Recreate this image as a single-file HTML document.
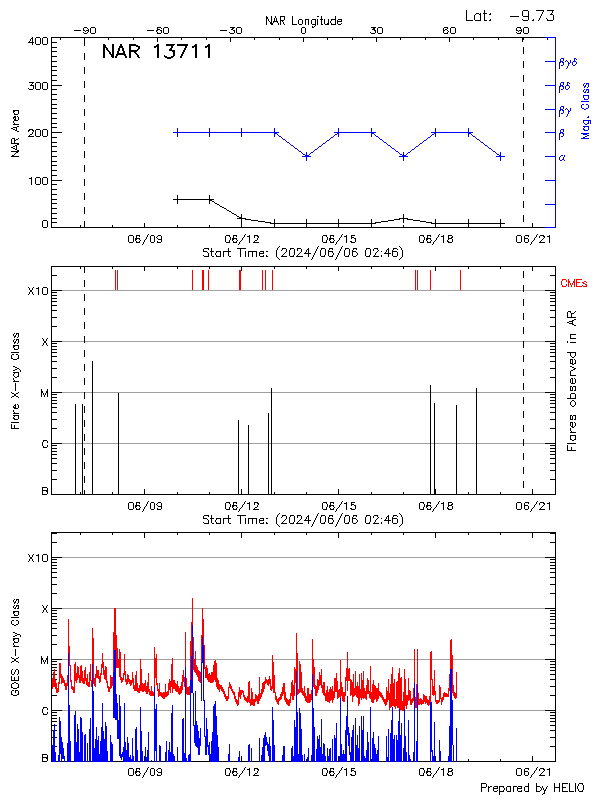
<!DOCTYPE html>
<html lang="en"><head><meta charset="utf-8"><title>NAR 13711</title>
<style>html,body{margin:0;padding:0;background:#fff}body{width:600px;height:800px;overflow:hidden;font-family:"Liberation Sans",sans-serif}svg{display:block}</style>
</head><body>
<svg width="600" height="800" viewBox="0 0 600 800" shape-rendering="crispEdges" role="img" aria-label="NAR 13711 summary plot">
<title>NAR 13711</title>
<desc>NAR 13711. Lat: -9.73. NAR Longitude -90 -60 -30 0 30 60 90. NAR Area 0 100 200 300 400. Mag. Class alpha beta beta-gamma beta-delta beta-gamma-delta. Start Time: (2024/06/06 02:46). 06/09 06/12 06/15 06/18 06/21. Flare X-ray Class B C M X X10. CMEs. Flares observed in AR. GOES X-ray Class. Prepared by HELIO</desc>
<rect width="600" height="800" fill="#fff"/>
<path fill="#000" d="M523 10h5v1h-5zM536 10h8v1h-8zM547 10h7v1h-7zM543 11h1v1h-1zM484 10h1v3h-1zM552 11h1v2h-1zM476 13h3v1h-3zM480 13h1v1h-1zM483 13h4v1h-4zM490 13h1v1h-1zM542 12h1v2h-1zM551 13h1v1h-1zM475 14h1v1h-1zM479 14h2v1h-2zM489 14h2v1h-2zM550 14h3v1h-3zM522 11h1v5h-1zM528 11h1v5h-1zM541 14h1v2h-1zM266 16h1v1h-1zM280 16h5v1h-5zM317 16h2v1h-2zM510 16h9v1h-9zM523 16h6v1h-6zM275 16h1v2h-1zM540 16h1v2h-1zM266 17h2v2h-2zM321 16h1v3h-1zM335 16h1v3h-1zM546 18h1v1h-1zM280 17h1v3h-1zM284 17h1v3h-1zM299 19h3v1h-3zM305 19h4v1h-4zM312 19h4v1h-4zM320 19h3v1h-3zM331 19h5v1h-5zM338 19h4v1h-4zM466 10h1v10h-1zM474 15h1v5h-1zM480 15h1v5h-1zM484 14h1v6h-1zM490 19h1v1h-1zM522 19h1v1h-1zM528 17h1v3h-1zM533 19h1v1h-1zM539 18h1v2h-1zM547 19h1v1h-1zM553 15h1v5h-1zM268 19h1v2h-1zM274 18h1v3h-1zM276 18h1v3h-1zM280 20h4v1h-4zM331 20h1v1h-1zM337 20h1v1h-1zM341 20h1v1h-1zM466 20h7v1h-7zM475 20h6v1h-6zM484 20h3v1h-3zM489 20h2v1h-2zM523 20h5v1h-5zM532 20h2v1h-2zM538 20h1v1h-1zM547 20h6v1h-6zM269 21h1v1h-1zM271 16h1v6h-1zM273 21h5v1h-5zM282 21h1v1h-1zM337 21h5v1h-5zM270 22h2v1h-2zM273 22h1v1h-1zM277 22h1v1h-1zM328 19h1v4h-1zM330 21h1v2h-1zM270 23h3v1h-3zM283 22h1v2h-1zM292 16h1v8h-1zM298 20h1v4h-1zM302 20h1v4h-1zM311 20h1v4h-1zM315 20h1v4h-1zM321 20h1v4h-1zM324 19h1v5h-1zM327 23h2v1h-2zM331 23h1v1h-1zM335 20h1v4h-1zM337 22h1v2h-1zM341 23h1v1h-1zM266 19h1v6h-1zM271 24h2v1h-2zM278 23h1v2h-1zM280 21h1v4h-1zM284 24h1v1h-1zM292 24h5v1h-5zM299 24h3v1h-3zM305 20h1v5h-1zM308 20h1v5h-1zM312 24h4v1h-4zM317 19h1v6h-1zM321 24h2v1h-2zM325 24h4v1h-4zM331 24h5v1h-5zM338 24h3v1h-3zM315 25h1v1h-1zM312 26h1v1h-1zM314 26h1v1h-1zM84 27h3v1h-3zM91 27h4v1h-4zM157 27h4v1h-4zM164 27h4v1h-4zM230 27h5v1h-5zM237 27h4v1h-4zM302 27h3v1h-3zM312 27h2v1h-2zM371 27h5v1h-5zM378 27h4v1h-4zM444 27h4v1h-4zM451 27h4v1h-4zM517 27h4v1h-4zM524 27h4v1h-4zM87 28h1v1h-1zM157 28h1v1h-1zM161 28h1v1h-1zM232 28h2v1h-2zM373 28h2v1h-2zM447 28h1v1h-1zM520 28h1v1h-1zM83 28h1v2h-1zM88 29h1v1h-1zM157 29h3v1h-3zM231 29h2v1h-2zM372 29h3v1h-3zM443 28h1v2h-1zM445 29h2v1h-2zM516 28h1v2h-1zM521 29h1v1h-1zM74 30h7v1h-7zM83 30h2v1h-2zM86 30h3v1h-3zM147 30h7v1h-7zM156 30h2v1h-2zM160 30h2v1h-2zM220 30h7v1h-7zM233 30h2v1h-2zM374 30h2v1h-2zM443 30h2v1h-2zM447 30h1v1h-1zM516 30h2v1h-2zM519 30h3v1h-3zM85 31h1v1h-1zM88 31h1v1h-1zM156 31h1v1h-1zM448 31h1v1h-1zM518 31h1v1h-1zM521 31h1v1h-1zM83 32h1v1h-1zM87 32h1v1h-1zM90 28h1v5h-1zM95 28h1v5h-1zM157 32h1v1h-1zM161 31h1v2h-1zM163 28h1v5h-1zM168 28h1v5h-1zM229 32h1v1h-1zM234 31h1v2h-1zM236 28h1v5h-1zM241 28h1v5h-1zM301 28h1v5h-1zM305 28h1v5h-1zM370 32h1v1h-1zM375 31h1v2h-1zM377 28h1v5h-1zM382 28h1v5h-1zM443 31h1v2h-1zM447 32h1v1h-1zM450 28h1v5h-1zM455 28h1v5h-1zM516 32h1v1h-1zM520 32h1v1h-1zM523 28h1v5h-1zM528 28h1v5h-1zM84 33h3v1h-3zM91 33h4v1h-4zM157 33h4v1h-4zM164 33h4v1h-4zM230 33h4v1h-4zM237 33h4v1h-4zM302 33h3v1h-3zM371 33h4v1h-4zM378 33h4v1h-4zM444 33h4v1h-4zM451 33h4v1h-4zM517 33h4v1h-4zM524 33h4v1h-4zM32 37h1v1h-1zM36 37h4v1h-4zM43 37h4v1h-4zM51 37h494v1h-494zM31 38h2v1h-2zM60 38h1v2h-1zM108 38h1v2h-1zM133 38h1v2h-1zM181 38h1v2h-1zM206 38h1v2h-1zM254 38h1v2h-1zM279 38h1v2h-1zM327 38h1v2h-1zM352 38h1v2h-1zM400 38h1v2h-1zM425 38h1v2h-1zM473 38h1v2h-1zM498 38h1v2h-1zM522 38h2v2h-2zM547 38h1v2h-1zM30 39h1v2h-1zM29 41h1v1h-1zM32 39h1v3h-1zM51 38h1v4h-1zM157 38h1v4h-1zM230 38h1v4h-1zM303 38h1v4h-1zM376 38h1v4h-1zM449 38h1v4h-1zM522 40h1v2h-1zM28 42h6v1h-6zM51 42h6v1h-6zM35 38h1v6h-1zM40 38h1v6h-1zM42 38h1v6h-1zM47 38h1v6h-1zM32 43h1v2h-1zM36 44h4v1h-4zM43 44h4v1h-4zM103 44h2v1h-2zM129 44h7v1h-7zM157 44h2v1h-2zM166 44h9v1h-9zM195 44h2v1h-2zM208 44h2v1h-2zM84 38h1v8h-1zM120 44h2v2h-2zM129 45h9v1h-9zM156 45h3v1h-3zM166 45h8v1h-8zM177 44h11v2h-11zM194 45h3v1h-3zM207 45h3v1h-3zM51 43h1v4h-1zM103 45h3v2h-3zM136 46h4v1h-4zM154 46h5v1h-5zM192 46h5v1h-5zM205 46h5v1h-5zM51 47h6v1h-6zM103 47h4v1h-4zM119 46h4v2h-4zM154 47h2v1h-2zM171 46h2v2h-2zM185 46h2v2h-2zM192 47h2v1h-2zM205 47h2v1h-2zM138 47h2v2h-2zM170 48h2v1h-2zM106 48h2v2h-2zM129 46h2v4h-2zM137 49h2v1h-2zM169 49h3v1h-3zM184 48h2v2h-2zM51 48h1v3h-1zM107 50h2v1h-2zM118 48h2v3h-2zM122 48h2v3h-2zM129 50h9v1h-9zM169 50h6v1h-6zM51 51h6v1h-6zM108 51h2v1h-2zM129 51h8v1h-8zM172 51h3v1h-3zM183 50h2v2h-2zM117 51h2v2h-2zM123 51h2v2h-2zM134 52h2v1h-2zM109 52h2v2h-2zM112 44h2v10h-2zM117 53h8v1h-8zM135 53h2v1h-2zM182 52h2v2h-2zM523 47h1v7h-1zM110 54h4v1h-4zM116 54h10v1h-10zM136 54h2v1h-2zM51 52h1v4h-1zM116 55h2v1h-2zM124 55h2v1h-2zM164 55h1v1h-1zM173 52h2v4h-2zM181 54h2v2h-2zM51 56h6v1h-6zM111 55h3v2h-3zM137 55h2v2h-2zM164 56h3v1h-3zM171 56h3v1h-3zM103 48h2v10h-2zM112 57h2v1h-2zM115 56h2v2h-2zM125 56h2v2h-2zM129 52h2v6h-2zM138 57h2v1h-2zM157 47h2v11h-2zM165 57h8v1h-8zM180 56h2v2h-2zM195 47h2v11h-2zM208 47h2v11h-2zM167 58h4v1h-4zM84 53h1v7h-1zM51 57h1v4h-1zM51 61h6v1h-6zM51 62h1v4h-1zM51 66h6v1h-6zM523 61h1v7h-1zM51 67h1v3h-1zM51 70h6v1h-6zM84 67h1v7h-1zM51 71h1v4h-1zM51 75h6v1h-6zM51 76h1v4h-1zM51 80h6v1h-6zM523 75h1v7h-1zM29 82h5v1h-5zM36 82h4v1h-4zM43 82h4v1h-4zM32 83h1v1h-1zM31 84h1v1h-1zM51 81h1v4h-1zM30 85h4v1h-4zM51 85h11v1h-11zM84 81h1v7h-1zM28 88h1v1h-1zM33 86h1v3h-1zM35 83h1v6h-1zM40 83h1v6h-1zM42 83h1v6h-1zM47 83h1v6h-1zM51 86h1v3h-1zM29 89h4v1h-4zM36 89h4v1h-4zM43 89h4v1h-4zM51 89h6v1h-6zM51 90h1v4h-1zM51 94h6v1h-6zM523 89h1v7h-1zM51 95h1v4h-1zM51 99h6v1h-6zM84 95h1v7h-1zM51 100h1v4h-1zM51 104h6v1h-6zM51 105h1v3h-1zM51 108h6v1h-6zM523 103h1v7h-1zM13 110h6v1h-6zM13 111h2v1h-2zM13 112h1v1h-1zM51 109h1v4h-1zM14 113h1v1h-1zM18 111h1v3h-1zM51 113h6v1h-6zM14 114h4v1h-4zM84 109h1v7h-1zM14 116h2v1h-2zM17 116h1v1h-1zM13 117h3v1h-3zM51 114h1v4h-1zM13 118h1v1h-1zM15 118h1v1h-1zM51 118h6v1h-6zM14 119h2v1h-2zM18 117h1v3h-1zM14 120h4v1h-4zM13 121h1v2h-1zM51 119h1v4h-1zM14 123h1v1h-1zM51 123h6v1h-6zM523 117h1v7h-1zM13 124h6v1h-6zM17 126h2v1h-2zM51 124h1v3h-1zM13 127h4v1h-4zM51 127h6v1h-6zM11 128h2v1h-2zM13 129h2v1h-2zM16 128h1v2h-1zM29 129h4v1h-4zM36 129h4v1h-4zM43 129h4v1h-4zM84 123h1v7h-1zM15 130h2v1h-2zM28 130h2v1h-2zM32 130h2v1h-2zM17 131h2v1h-2zM28 131h1v1h-1zM33 131h1v1h-1zM51 128h1v4h-1zM51 132h11v1h-11zM32 132h1v2h-1zM30 134h2v1h-2zM29 135h1v1h-1zM35 130h1v6h-1zM40 130h1v6h-1zM42 130h1v6h-1zM47 130h1v6h-1zM28 136h6v1h-6zM36 136h4v1h-4zM43 136h4v1h-4zM51 133h1v4h-1zM51 137h6v1h-6zM523 131h1v7h-1zM12 138h3v1h-3zM18 138h1v1h-1zM14 139h1v1h-1zM16 139h2v1h-2zM14 140h2v1h-2zM51 138h1v4h-1zM11 139h1v4h-1zM14 141h1v2h-1zM51 142h6v1h-6zM11 143h8v1h-8zM84 137h1v7h-1zM17 144h2v1h-2zM15 145h2v1h-2zM51 143h1v3h-1zM13 146h2v1h-2zM51 146h6v1h-6zM11 147h2v1h-2zM13 148h2v1h-2zM16 146h1v3h-1zM15 149h2v1h-2zM17 150h2v1h-2zM51 147h1v4h-1zM11 151h8v1h-8zM51 151h6v1h-6zM523 145h1v7h-1zM16 152h2v1h-2zM15 153h1v1h-1zM14 154h1v1h-1zM12 155h2v1h-2zM51 152h1v4h-1zM11 156h8v1h-8zM51 156h6v1h-6zM84 151h1v7h-1zM51 157h1v4h-1zM51 161h6v1h-6zM51 162h1v3h-1zM51 165h6v1h-6zM523 159h1v7h-1zM51 166h1v4h-1zM51 170h6v1h-6zM84 165h1v7h-1zM51 171h1v4h-1zM51 175h6v1h-6zM31 177h1v1h-1zM36 177h4v1h-4zM43 177h4v1h-4zM29 178h3v1h-3zM51 176h1v4h-1zM523 173h1v7h-1zM51 180h11v1h-11zM35 178h1v6h-1zM40 178h1v6h-1zM42 178h1v6h-1zM47 178h1v6h-1zM51 181h1v3h-1zM31 179h1v6h-1zM36 184h4v1h-4zM43 184h4v1h-4zM51 184h6v1h-6zM84 179h1v7h-1zM51 185h1v4h-1zM51 189h6v1h-6zM51 190h1v4h-1zM523 187h1v7h-1zM51 194h6v1h-6zM51 195h1v4h-1zM177 195h1v4h-1zM209 195h1v4h-1zM51 199h6v1h-6zM84 193h1v7h-1zM173 199h41v1h-41zM209 200h3v1h-3zM212 201h2v1h-2zM51 200h1v3h-1zM214 202h1v1h-1zM51 203h6v1h-6zM177 200h1v4h-1zM209 201h1v3h-1zM215 203h2v1h-2zM217 204h2v1h-2zM219 205h1v1h-1zM220 206h2v1h-2zM51 204h1v4h-1zM222 207h2v1h-2zM523 201h1v7h-1zM51 208h6v1h-6zM224 208h2v1h-2zM226 209h1v1h-1zM227 210h2v1h-2zM229 211h2v1h-2zM51 209h1v4h-1zM231 212h1v1h-1zM51 213h6v1h-6zM84 207h1v7h-1zM232 213h2v1h-2zM234 214h2v1h-2zM236 215h1v1h-1zM237 216h2v1h-2zM241 214h1v3h-1zM51 214h1v4h-1zM239 217h3v1h-3zM403 214h1v4h-1zM51 218h6v1h-6zM237 218h9v1h-9zM399 218h9v1h-9zM245 219h6v1h-6zM394 219h6v1h-6zM407 219h6v1h-6zM43 220h4v1h-4zM251 220h7v1h-7zM388 220h6v1h-6zM413 220h7v1h-7zM51 219h1v3h-1zM258 221h7v1h-7zM381 221h7v1h-7zM420 221h6v1h-6zM523 215h1v7h-1zM51 222h6v1h-6zM265 222h6v1h-6zM274 219h1v4h-1zM306 219h1v4h-1zM338 219h1v4h-1zM371 219h1v4h-1zM375 222h6v1h-6zM403 219h1v4h-1zM426 222h6v1h-6zM435 219h1v4h-1zM468 219h1v4h-1zM500 219h1v4h-1zM270 223h106v1h-106zM431 223h74v1h-74zM42 221h1v6h-1zM47 221h1v6h-1zM51 223h1v4h-1zM80 225h1v2h-1zM84 221h1v6h-1zM112 225h1v2h-1zM144 223h1v4h-1zM177 225h1v2h-1zM209 225h1v2h-1zM241 219h1v8h-1zM274 224h1v3h-1zM306 224h1v3h-1zM338 224h1v3h-1zM371 224h1v3h-1zM403 225h1v2h-1zM435 224h1v3h-1zM468 224h1v3h-1zM500 224h1v3h-1zM532 223h1v4h-1zM43 227h4v1h-4zM51 227h494v1h-494zM148 234h1v1h-1zM245 234h1v1h-1zM342 234h1v1h-1zM439 234h1v1h-1zM537 234h1v1h-1zM129 235h4v1h-4zM136 235h4v1h-4zM151 235h3v1h-3zM158 235h3v1h-3zM226 235h4v1h-4zM233 235h4v1h-4zM249 235h1v1h-1zM254 235h4v1h-4zM323 235h4v1h-4zM330 235h4v1h-4zM346 235h1v1h-1zM351 235h4v1h-4zM420 235h4v1h-4zM427 235h4v1h-4zM443 235h1v1h-1zM448 235h4v1h-4zM517 235h4v1h-4zM525 235h4v1h-4zM540 235h4v1h-4zM549 235h1v1h-1zM139 236h1v1h-1zM147 235h1v2h-1zM157 236h1v1h-1zM229 236h1v1h-1zM236 236h1v1h-1zM244 235h1v2h-1zM247 236h3v1h-3zM257 236h2v1h-2zM326 236h1v1h-1zM333 236h1v1h-1zM341 235h1v2h-1zM344 236h3v1h-3zM351 236h1v1h-1zM423 236h1v1h-1zM430 236h1v1h-1zM438 235h1v2h-1zM441 236h3v1h-3zM452 236h1v1h-1zM528 236h1v1h-1zM536 235h1v2h-1zM543 236h2v1h-2zM547 236h3v1h-3zM136 236h1v2h-1zM156 237h1v1h-1zM233 236h1v2h-1zM243 237h1v1h-1zM254 236h1v2h-1zM258 237h1v1h-1zM330 236h1v2h-1zM340 237h1v1h-1zM351 237h3v1h-3zM427 236h1v2h-1zM437 237h1v1h-1zM448 236h1v2h-1zM451 237h2v1h-2zM524 236h1v2h-1zM535 237h1v1h-1zM539 236h1v2h-1zM544 237h1v1h-1zM135 238h5v1h-5zM146 237h1v2h-1zM157 238h1v1h-1zM161 236h1v3h-1zM232 238h5v1h-5zM329 238h5v1h-5zM351 238h1v1h-1zM354 238h2v1h-2zM426 238h5v1h-5zM448 238h4v1h-4zM524 238h4v1h-4zM543 238h1v1h-1zM135 239h2v1h-2zM139 239h1v1h-1zM145 239h1v1h-1zM158 239h4v1h-4zM230 237h1v3h-1zM232 239h2v1h-2zM236 239h1v1h-1zM242 238h1v2h-1zM257 238h1v2h-1zM327 237h1v3h-1zM329 239h2v1h-2zM333 239h1v1h-1zM339 238h1v2h-1zM424 237h1v3h-1zM426 239h2v1h-2zM430 239h1v1h-1zM436 238h1v2h-1zM448 239h1v1h-1zM534 238h1v2h-1zM542 239h1v1h-1zM135 240h1v1h-1zM140 240h1v1h-1zM232 240h1v1h-1zM237 240h1v1h-1zM241 240h1v1h-1zM255 240h2v1h-2zM329 240h1v1h-1zM334 240h1v1h-1zM338 240h1v1h-1zM426 240h1v1h-1zM431 240h1v1h-1zM435 240h1v1h-1zM447 240h1v1h-1zM533 240h1v1h-1zM541 240h1v1h-1zM128 236h1v6h-1zM133 236h1v6h-1zM136 241h1v1h-1zM139 241h1v1h-1zM144 240h1v2h-1zM150 236h1v6h-1zM154 236h1v6h-1zM157 241h1v1h-1zM161 240h1v2h-1zM225 236h1v6h-1zM229 240h1v2h-1zM233 241h1v1h-1zM236 241h1v1h-1zM240 241h1v1h-1zM254 241h1v1h-1zM322 236h1v6h-1zM326 240h1v2h-1zM330 241h1v1h-1zM333 241h1v1h-1zM337 241h1v1h-1zM350 241h2v1h-2zM355 239h1v3h-1zM419 236h1v6h-1zM423 240h1v2h-1zM427 241h1v1h-1zM430 241h1v1h-1zM434 241h1v1h-1zM447 241h2v1h-2zM452 239h1v3h-1zM516 236h1v6h-1zM521 236h1v6h-1zM524 239h1v3h-1zM528 239h1v3h-1zM532 241h1v1h-1zM540 241h1v1h-1zM129 242h4v1h-4zM136 242h4v1h-4zM151 242h3v1h-3zM157 242h4v1h-4zM226 242h4v1h-4zM233 242h4v1h-4zM249 237h1v6h-1zM253 242h6v1h-6zM323 242h4v1h-4zM330 242h4v1h-4zM346 237h1v6h-1zM351 242h4v1h-4zM420 242h4v1h-4zM427 242h4v1h-4zM443 237h1v6h-1zM448 242h4v1h-4zM517 242h4v1h-4zM525 242h3v1h-3zM539 242h6v1h-6zM549 237h1v6h-1zM143 242h1v2h-1zM239 242h1v2h-1zM336 242h1v2h-1zM433 242h1v2h-1zM531 242h1v2h-1zM142 244h1v1h-1zM238 244h1v1h-1zM335 244h1v1h-1zM432 244h1v1h-1zM530 244h1v1h-1zM279 246h1v1h-1zM318 246h1v1h-1zM342 246h1v1h-1zM399 246h1v1h-1zM278 247h1v1h-1zM400 247h1v1h-1zM204 248h5v1h-5zM237 248h9v1h-9zM282 248h4v1h-4zM290 248h4v1h-4zM297 248h4v1h-4zM308 248h1v1h-1zM317 247h1v2h-1zM321 248h4v1h-4zM329 248h4v1h-4zM341 247h1v2h-1zM345 248h4v1h-4zM353 248h4v1h-4zM366 248h4v1h-4zM374 248h4v1h-4zM388 248h1v1h-1zM393 248h4v1h-4zM208 249h1v1h-1zM277 248h1v2h-1zM282 249h1v1h-1zM290 249h1v1h-1zM307 249h2v1h-2zM321 249h1v1h-1zM329 249h1v1h-1zM332 249h1v1h-1zM345 249h1v1h-1zM353 249h1v1h-1zM356 249h1v1h-1zM366 249h1v1h-1zM377 249h1v1h-1zM387 249h2v1h-2zM393 249h1v1h-1zM397 249h1v1h-1zM401 248h1v2h-1zM203 249h1v2h-1zM211 248h1v3h-1zM228 248h1v3h-1zM281 250h1v1h-1zM297 249h1v2h-1zM316 249h1v2h-1zM328 250h1v1h-1zM340 249h1v2h-1zM352 250h1v1h-1zM373 249h1v2h-1zM378 250h1v1h-1zM392 250h1v1h-1zM203 251h4v1h-4zM210 251h4v1h-4zM216 251h5v1h-5zM223 251h8v1h-8zM248 251h9v1h-9zM260 251h4v1h-4zM266 251h2v1h-2zM286 249h1v3h-1zM301 249h1v3h-1zM306 250h1v2h-1zM328 251h5v1h-5zM352 251h4v1h-4zM377 251h1v1h-1zM381 251h1v1h-1zM386 250h1v2h-1zM392 251h5v1h-5zM207 252h1v1h-1zM216 252h1v1h-1zM259 252h1v1h-1zM263 252h1v1h-1zM285 252h1v1h-1zM300 252h1v1h-1zM305 252h1v1h-1zM308 250h1v3h-1zM315 251h1v2h-1zM332 252h1v1h-1zM339 251h1v2h-1zM356 252h1v1h-1zM376 252h1v1h-1zM385 252h1v1h-1zM388 250h1v3h-1zM259 253h5v1h-5zM284 253h1v1h-1zM299 253h1v1h-1zM304 253h7v1h-7zM384 253h7v1h-7zM215 253h1v2h-1zM283 254h1v1h-1zM294 249h1v6h-1zM298 254h1v1h-1zM314 253h1v2h-1zM325 249h1v6h-1zM333 253h1v2h-1zM338 253h1v2h-1zM349 249h1v6h-1zM357 253h1v2h-1zM370 249h1v6h-1zM375 253h1v2h-1zM203 255h1v1h-1zM208 253h1v3h-1zM211 252h1v4h-1zM216 255h1v1h-1zM220 252h1v4h-1zM228 252h1v4h-1zM259 254h1v2h-1zM263 255h1v1h-1zM266 255h1v1h-1zM282 255h1v1h-1zM289 250h1v6h-1zM293 255h1v1h-1zM297 255h1v1h-1zM320 250h1v6h-1zM324 255h1v1h-1zM328 252h1v4h-1zM332 255h1v1h-1zM344 250h1v6h-1zM348 255h1v1h-1zM352 252h1v4h-1zM356 255h1v1h-1zM365 250h1v6h-1zM369 255h1v1h-1zM374 255h1v1h-1zM392 252h1v4h-1zM397 252h1v4h-1zM204 256h5v1h-5zM212 256h2v1h-2zM216 256h5v1h-5zM223 252h1v5h-1zM229 256h2v1h-2zM240 249h1v8h-1zM245 251h1v6h-1zM248 252h1v5h-1zM252 252h1v5h-1zM256 252h1v5h-1zM260 256h4v1h-4zM266 256h2v1h-2zM276 250h1v7h-1zM281 256h6v1h-6zM290 256h4v1h-4zM296 256h7v1h-7zM308 254h1v3h-1zM313 255h1v2h-1zM321 256h4v1h-4zM329 256h4v1h-4zM337 255h1v2h-1zM345 256h4v1h-4zM353 256h3v1h-3zM366 256h4v1h-4zM373 256h6v1h-6zM381 255h1v2h-1zM388 254h1v3h-1zM393 256h4v1h-4zM402 250h1v7h-1zM277 257h1v1h-1zM401 257h1v1h-1zM278 258h1v1h-1zM312 257h1v2h-1zM336 257h1v2h-1zM400 258h1v1h-1zM279 259h1v1h-1zM311 259h1v1h-1zM335 259h1v1h-1zM399 259h1v1h-1zM51 266h505v1h-505zM80 267h1v2h-1zM112 267h1v2h-1zM177 267h1v2h-1zM209 267h1v2h-1zM274 267h1v2h-1zM306 267h1v2h-1zM371 267h1v2h-1zM403 267h1v2h-1zM468 267h1v2h-1zM500 267h1v2h-1zM144 267h1v4h-1zM241 267h1v4h-1zM338 267h1v4h-1zM435 267h1v4h-1zM532 267h1v4h-1zM84 267h1v6h-1zM51 267h1v8h-1zM555 267h1v8h-1zM51 275h6v1h-6zM550 275h6v1h-6zM523 271h1v7h-1zM84 280h1v7h-1zM28 287h1v1h-1zM33 287h1v1h-1zM38 287h1v1h-1zM43 287h4v1h-4zM36 288h3v1h-3zM29 288h1v2h-1zM32 288h1v2h-1zM51 276h1v14h-1zM555 276h1v14h-1zM51 290h11v1h-11zM545 290h11v1h-11zM30 290h2v2h-2zM51 291h1v1h-1zM523 285h1v7h-1zM555 291h1v1h-1zM51 292h6v1h-6zM550 292h6v1h-6zM29 292h1v2h-1zM32 292h1v2h-1zM42 288h1v6h-1zM47 288h1v6h-1zM28 294h1v1h-1zM33 294h1v1h-1zM38 289h1v6h-1zM43 294h4v1h-4zM51 293h1v2h-1zM555 293h1v2h-1zM51 295h6v1h-6zM550 295h6v1h-6zM51 296h1v2h-1zM555 296h1v2h-1zM51 298h6v1h-6zM550 298h6v1h-6zM51 299h1v2h-1zM84 294h1v7h-1zM555 299h1v2h-1zM51 301h6v1h-6zM550 301h6v1h-6zM51 302h1v3h-1zM555 302h1v3h-1zM51 305h6v1h-6zM523 299h1v7h-1zM550 305h6v1h-6zM51 306h1v4h-1zM555 306h1v4h-1zM51 310h6v1h-6zM550 310h6v1h-6zM568 311h3v1h-3zM575 311h1v1h-1zM570 312h1v1h-1zM574 312h1v1h-1zM571 313h3v1h-3zM84 308h1v7h-1zM51 311h1v6h-1zM555 311h1v6h-1zM567 312h1v5h-1zM571 314h1v3h-1zM51 317h6v1h-6zM550 317h6v1h-6zM567 317h9v1h-9zM523 313h1v7h-1zM574 319h2v1h-2zM572 320h2v1h-2zM569 321h4v1h-4zM567 322h2v1h-2zM572 322h1v1h-1zM569 323h4v1h-4zM572 324h2v1h-2zM51 318h1v8h-1zM555 318h1v8h-1zM574 325h2v1h-2zM51 326h6v1h-6zM550 326h6v1h-6zM84 322h1v7h-1zM14 333h1v1h-1zM16 333h3v1h-3zM523 327h1v7h-1zM16 334h1v1h-1zM570 334h6v1h-6zM13 334h1v2h-1zM15 335h1v1h-1zM14 336h2v1h-2zM18 334h1v3h-1zM14 337h1v1h-1zM17 337h1v1h-1zM570 335h1v3h-1zM42 338h1v1h-1zM47 338h1v1h-1zM570 338h6v1h-6zM14 339h1v1h-1zM16 339h3v1h-3zM16 340h1v1h-1zM43 339h1v2h-1zM46 339h1v2h-1zM51 327h1v14h-1zM555 327h1v14h-1zM13 340h1v2h-1zM15 341h1v1h-1zM51 341h11v1h-11zM545 341h11v1h-11zM14 342h2v1h-2zM18 340h1v3h-1zM44 341h2v2h-2zM51 342h1v1h-1zM84 336h1v7h-1zM555 342h1v1h-1zM567 341h1v2h-1zM570 342h6v1h-6zM14 343h1v1h-1zM17 343h1v1h-1zM51 343h6v1h-6zM550 343h6v1h-6zM43 343h1v2h-1zM46 343h1v2h-1zM13 345h6v1h-6zM42 345h1v1h-1zM47 345h1v1h-1zM51 344h1v2h-1zM555 344h1v2h-1zM13 346h2v1h-2zM51 346h6v1h-6zM550 346h6v1h-6zM13 347h1v1h-1zM523 341h1v7h-1zM14 348h1v1h-1zM18 346h1v3h-1zM51 347h1v2h-1zM555 347h1v2h-1zM14 349h4v1h-4zM51 349h6v1h-6zM550 349h6v1h-6zM51 350h1v2h-1zM555 350h1v2h-1zM11 352h8v1h-8zM51 352h6v1h-6zM550 352h6v1h-6zM567 352h9v1h-9zM12 354h2v1h-2zM16 354h2v1h-2zM51 353h1v3h-1zM555 353h1v3h-1zM570 353h1v3h-1zM575 353h1v3h-1zM51 356h6v1h-6zM84 350h1v7h-1zM550 356h6v1h-6zM571 356h1v1h-1zM574 356h1v1h-1zM11 355h1v3h-1zM18 355h1v3h-1zM572 357h2v1h-2zM11 358h2v1h-2zM17 358h2v1h-2zM13 359h4v1h-4zM570 359h3v1h-3zM574 359h1v1h-1zM51 357h1v4h-1zM555 357h1v4h-1zM51 361h6v1h-6zM523 355h1v7h-1zM550 361h6v1h-6zM570 360h1v3h-1zM572 360h1v3h-1zM575 360h1v3h-1zM570 363h3v1h-3zM574 363h2v1h-2zM572 364h2v1h-2zM13 366h2v1h-2zM570 366h2v1h-2zM15 367h2v1h-2zM51 362h1v6h-1zM555 362h1v6h-1zM572 367h2v1h-2zM17 368h2v1h-2zM51 368h6v1h-6zM550 368h6v1h-6zM574 368h2v1h-2zM15 369h2v1h-2zM19 369h1v1h-1zM573 369h2v1h-2zM13 370h2v1h-2zM84 364h1v7h-1zM571 370h2v1h-2zM20 370h1v2h-1zM13 372h6v1h-6zM14 373h1v1h-1zM570 371h1v4h-1zM13 374h1v2h-1zM18 373h1v3h-1zM523 369h1v7h-1zM570 375h6v1h-6zM14 376h1v1h-1zM17 376h2v1h-2zM51 369h1v8h-1zM555 369h1v8h-1zM15 377h2v1h-2zM51 377h6v1h-6zM550 377h6v1h-6zM571 378h2v1h-2zM574 378h1v1h-1zM13 378h1v2h-1zM14 380h1v1h-1zM13 381h6v1h-6zM570 379h1v4h-1zM572 379h1v4h-1zM575 379h1v4h-1zM571 383h4v1h-4zM84 378h1v7h-1zM570 386h2v1h-2zM573 386h3v1h-3zM523 383h1v7h-1zM570 387h1v3h-1zM572 387h1v3h-1zM575 387h1v3h-1zM15 383h1v8h-1zM41 389h1v2h-1zM47 389h1v2h-1zM570 390h3v1h-3zM574 390h2v1h-2zM51 378h1v14h-1zM555 378h1v14h-1zM11 392h1v1h-1zM18 392h1v1h-1zM41 391h2v2h-2zM46 391h2v2h-2zM51 392h11v1h-11zM545 392h11v1h-11zM12 393h2v1h-2zM16 393h2v1h-2zM51 393h1v1h-1zM555 393h1v1h-1zM571 393h4v1h-4zM43 393h1v2h-1zM45 393h1v2h-1zM51 394h6v1h-6zM550 394h6v1h-6zM14 394h2v2h-2zM12 396h2v1h-2zM16 396h2v1h-2zM41 393h1v4h-1zM44 395h1v2h-1zM47 393h1v4h-1zM51 395h1v2h-1zM555 395h1v2h-1zM11 397h1v1h-1zM18 397h1v1h-1zM51 397h6v1h-6zM550 397h6v1h-6zM570 394h1v4h-1zM575 394h1v4h-1zM84 392h1v7h-1zM567 398h9v1h-9zM51 398h1v2h-1zM555 398h1v2h-1zM51 400h6v1h-6zM550 400h6v1h-6zM572 400h2v1h-2zM571 401h1v1h-1zM574 401h1v1h-1zM51 401h1v2h-1zM555 401h1v2h-1zM51 403h6v1h-6zM523 397h1v7h-1zM550 403h6v1h-6zM15 404h1v1h-1zM17 404h1v1h-1zM570 402h1v3h-1zM575 402h1v3h-1zM14 405h2v1h-2zM571 405h1v1h-1zM574 405h1v1h-1zM13 406h1v1h-1zM15 406h1v1h-1zM51 404h1v3h-1zM555 404h1v3h-1zM572 406h2v1h-2zM13 407h3v1h-3zM18 405h1v3h-1zM51 407h6v1h-6zM550 407h6v1h-6zM14 408h4v1h-4zM13 410h1v2h-1zM51 408h1v4h-1zM555 408h1v4h-1zM14 412h1v1h-1zM51 412h6v1h-6zM84 406h1v7h-1zM550 412h6v1h-6zM13 413h6v1h-6zM13 415h6v1h-6zM570 415h2v1h-2zM573 415h3v1h-3zM14 416h1v1h-1zM13 417h1v1h-1zM523 411h1v7h-1zM13 418h2v1h-2zM18 416h1v3h-1zM51 413h1v6h-1zM555 413h1v6h-1zM570 416h1v3h-1zM572 416h1v3h-1zM575 416h1v3h-1zM14 419h4v1h-4zM51 419h6v1h-6zM550 419h6v1h-6zM570 419h3v1h-3zM574 419h2v1h-2zM11 422h8v1h-8zM570 422h3v1h-3zM574 422h1v1h-1zM570 423h1v3h-1zM572 423h1v3h-1zM575 423h1v3h-1zM84 420h1v7h-1zM571 426h2v1h-2zM574 426h1v1h-1zM11 424h1v4h-1zM14 425h1v3h-1zM51 420h1v8h-1zM555 420h1v8h-1zM572 427h2v1h-2zM11 428h8v1h-8zM51 428h6v1h-6zM550 428h6v1h-6zM570 428h1v3h-1zM523 425h1v7h-1zM571 431h1v1h-1zM570 432h6v1h-6zM570 435h6v1h-6zM570 436h1v3h-1zM575 436h1v3h-1zM570 439h2v1h-2zM574 439h2v1h-2zM43 440h4v1h-4zM84 434h1v7h-1zM572 440h2v1h-2zM43 441h1v1h-1zM47 441h1v2h-1zM51 429h1v14h-1zM555 429h1v14h-1zM51 443h11v1h-11zM545 443h11v1h-11zM567 443h9v1h-9zM51 444h1v1h-1zM555 444h1v1h-1zM42 442h1v4h-1zM51 445h6v1h-6zM523 439h1v7h-1zM550 445h6v1h-6zM43 446h1v1h-1zM47 445h1v2h-1zM43 447h4v1h-4zM51 446h1v2h-1zM555 446h1v2h-1zM51 448h6v1h-6zM550 448h6v1h-6zM567 445h1v5h-1zM571 447h1v3h-1zM51 449h1v2h-1zM555 449h1v2h-1zM567 450h9v1h-9zM51 451h6v1h-6zM550 451h6v1h-6zM51 452h1v2h-1zM555 452h1v2h-1zM51 454h6v1h-6zM84 448h1v7h-1zM550 454h6v1h-6zM51 455h1v3h-1zM555 455h1v3h-1zM51 458h6v1h-6zM550 458h6v1h-6zM523 453h1v7h-1zM51 459h1v4h-1zM555 459h1v4h-1zM51 463h6v1h-6zM550 463h6v1h-6zM84 462h1v7h-1zM51 464h1v6h-1zM555 464h1v6h-1zM51 470h6v1h-6zM550 470h6v1h-6zM523 467h1v7h-1zM51 471h1v8h-1zM555 471h1v8h-1zM51 479h6v1h-6zM550 479h6v1h-6zM84 476h1v7h-1zM42 487h5v1h-5zM523 481h1v7h-1zM434 403h1v86h-1zM42 488h1v2h-1zM47 488h1v2h-1zM42 490h6v1h-6zM46 491h2v1h-2zM42 491h1v3h-1zM47 492h1v2h-1zM51 480h1v14h-1zM75 404h1v90h-1zM80 492h1v2h-1zM82 404h1v90h-1zM84 490h1v4h-1zM92 361h1v133h-1zM112 492h1v2h-1zM118 393h1v101h-1zM144 489h1v5h-1zM177 492h1v2h-1zM209 492h1v2h-1zM238 420h1v74h-1zM241 489h1v5h-1zM248 425h1v69h-1zM268 413h1v81h-1zM271 388h1v106h-1zM274 492h1v2h-1zM306 492h1v2h-1zM338 489h1v5h-1zM371 492h1v2h-1zM403 492h1v2h-1zM430 385h1v109h-1zM434 489h2v5h-2zM456 405h1v89h-1zM468 492h1v2h-1zM476 388h1v106h-1zM500 492h1v2h-1zM532 489h1v5h-1zM555 480h1v14h-1zM42 494h5v1h-5zM51 494h505v1h-505zM148 501h1v1h-1zM245 501h1v1h-1zM342 501h1v1h-1zM439 501h1v1h-1zM537 501h1v1h-1zM129 502h4v1h-4zM136 502h4v1h-4zM151 502h3v1h-3zM158 502h3v1h-3zM226 502h4v1h-4zM233 502h4v1h-4zM249 502h1v1h-1zM254 502h4v1h-4zM323 502h4v1h-4zM330 502h4v1h-4zM346 502h1v1h-1zM351 502h4v1h-4zM420 502h4v1h-4zM427 502h4v1h-4zM443 502h1v1h-1zM448 502h4v1h-4zM517 502h4v1h-4zM525 502h4v1h-4zM540 502h4v1h-4zM549 502h1v1h-1zM139 503h1v1h-1zM147 502h1v2h-1zM157 503h1v1h-1zM229 503h1v1h-1zM236 503h1v1h-1zM244 502h1v2h-1zM247 503h3v1h-3zM257 503h2v1h-2zM326 503h1v1h-1zM333 503h1v1h-1zM341 502h1v2h-1zM344 503h3v1h-3zM351 503h1v1h-1zM423 503h1v1h-1zM430 503h1v1h-1zM438 502h1v2h-1zM441 503h3v1h-3zM452 503h1v1h-1zM528 503h1v1h-1zM536 502h1v2h-1zM543 503h2v1h-2zM547 503h3v1h-3zM136 503h1v2h-1zM156 504h1v1h-1zM233 503h1v2h-1zM243 504h1v1h-1zM254 503h1v2h-1zM258 504h1v1h-1zM330 503h1v2h-1zM340 504h1v1h-1zM351 504h3v1h-3zM427 503h1v2h-1zM437 504h1v1h-1zM448 503h1v2h-1zM451 504h2v1h-2zM524 503h1v2h-1zM535 504h1v1h-1zM539 503h1v2h-1zM544 504h1v1h-1zM135 505h5v1h-5zM146 504h1v2h-1zM157 505h1v1h-1zM161 503h1v3h-1zM232 505h5v1h-5zM329 505h5v1h-5zM351 505h1v1h-1zM354 505h2v1h-2zM426 505h5v1h-5zM448 505h4v1h-4zM524 505h4v1h-4zM543 505h1v1h-1zM135 506h2v1h-2zM139 506h1v1h-1zM145 506h1v1h-1zM158 506h4v1h-4zM230 504h1v3h-1zM232 506h2v1h-2zM236 506h1v1h-1zM242 505h1v2h-1zM257 505h1v2h-1zM327 504h1v3h-1zM329 506h2v1h-2zM333 506h1v1h-1zM339 505h1v2h-1zM424 504h1v3h-1zM426 506h2v1h-2zM430 506h1v1h-1zM436 505h1v2h-1zM448 506h1v1h-1zM534 505h1v2h-1zM542 506h1v1h-1zM135 507h1v1h-1zM140 507h1v1h-1zM232 507h1v1h-1zM237 507h1v1h-1zM241 507h1v1h-1zM255 507h2v1h-2zM329 507h1v1h-1zM334 507h1v1h-1zM338 507h1v1h-1zM426 507h1v1h-1zM431 507h1v1h-1zM435 507h1v1h-1zM447 507h1v1h-1zM533 507h1v1h-1zM541 507h1v1h-1zM128 503h1v6h-1zM133 503h1v6h-1zM136 508h1v1h-1zM139 508h1v1h-1zM144 507h1v2h-1zM150 503h1v6h-1zM154 503h1v6h-1zM157 508h1v1h-1zM161 507h1v2h-1zM225 503h1v6h-1zM229 507h1v2h-1zM233 508h1v1h-1zM236 508h1v1h-1zM240 508h1v1h-1zM254 508h1v1h-1zM322 503h1v6h-1zM326 507h1v2h-1zM330 508h1v1h-1zM333 508h1v1h-1zM337 508h1v1h-1zM350 508h2v1h-2zM355 506h1v3h-1zM419 503h1v6h-1zM423 507h1v2h-1zM427 508h1v1h-1zM430 508h1v1h-1zM434 508h1v1h-1zM447 508h2v1h-2zM452 506h1v3h-1zM516 503h1v6h-1zM521 503h1v6h-1zM524 506h1v3h-1zM528 506h1v3h-1zM532 508h1v1h-1zM540 508h1v1h-1zM129 509h4v1h-4zM136 509h4v1h-4zM151 509h3v1h-3zM157 509h4v1h-4zM226 509h4v1h-4zM233 509h4v1h-4zM249 504h1v6h-1zM253 509h6v1h-6zM323 509h4v1h-4zM330 509h4v1h-4zM346 504h1v6h-1zM351 509h4v1h-4zM420 509h4v1h-4zM427 509h4v1h-4zM443 504h1v6h-1zM448 509h4v1h-4zM517 509h4v1h-4zM525 509h3v1h-3zM539 509h6v1h-6zM549 504h1v6h-1zM143 509h1v2h-1zM239 509h1v2h-1zM336 509h1v2h-1zM433 509h1v2h-1zM531 509h1v2h-1zM142 511h1v1h-1zM238 511h1v1h-1zM335 511h1v1h-1zM432 511h1v1h-1zM530 511h1v1h-1zM279 513h1v1h-1zM318 513h1v1h-1zM342 513h1v1h-1zM399 513h1v1h-1zM278 514h1v1h-1zM400 514h1v1h-1zM204 515h5v1h-5zM237 515h9v1h-9zM282 515h4v1h-4zM290 515h4v1h-4zM297 515h4v1h-4zM308 515h1v1h-1zM317 514h1v2h-1zM321 515h4v1h-4zM329 515h4v1h-4zM341 514h1v2h-1zM345 515h4v1h-4zM353 515h4v1h-4zM366 515h4v1h-4zM374 515h4v1h-4zM388 515h1v1h-1zM393 515h4v1h-4zM208 516h1v1h-1zM277 515h1v2h-1zM282 516h1v1h-1zM290 516h1v1h-1zM307 516h2v1h-2zM321 516h1v1h-1zM329 516h1v1h-1zM332 516h1v1h-1zM345 516h1v1h-1zM353 516h1v1h-1zM356 516h1v1h-1zM366 516h1v1h-1zM377 516h1v1h-1zM387 516h2v1h-2zM393 516h1v1h-1zM397 516h1v1h-1zM401 515h1v2h-1zM203 516h1v2h-1zM211 515h1v3h-1zM228 515h1v3h-1zM281 517h1v1h-1zM297 516h1v2h-1zM316 516h1v2h-1zM328 517h1v1h-1zM340 516h1v2h-1zM352 517h1v1h-1zM373 516h1v2h-1zM378 517h1v1h-1zM392 517h1v1h-1zM203 518h4v1h-4zM210 518h4v1h-4zM216 518h5v1h-5zM223 518h8v1h-8zM248 518h9v1h-9zM260 518h4v1h-4zM266 518h2v1h-2zM286 516h1v3h-1zM301 516h1v3h-1zM306 517h1v2h-1zM328 518h5v1h-5zM352 518h4v1h-4zM377 518h1v1h-1zM381 518h1v1h-1zM386 517h1v2h-1zM392 518h5v1h-5zM207 519h1v1h-1zM216 519h1v1h-1zM259 519h1v1h-1zM263 519h1v1h-1zM285 519h1v1h-1zM300 519h1v1h-1zM305 519h1v1h-1zM308 517h1v3h-1zM315 518h1v2h-1zM332 519h1v1h-1zM339 518h1v2h-1zM356 519h1v1h-1zM376 519h1v1h-1zM385 519h1v1h-1zM388 517h1v3h-1zM259 520h5v1h-5zM284 520h1v1h-1zM299 520h1v1h-1zM304 520h7v1h-7zM384 520h7v1h-7zM215 520h1v2h-1zM283 521h1v1h-1zM294 516h1v6h-1zM298 521h1v1h-1zM314 520h1v2h-1zM325 516h1v6h-1zM333 520h1v2h-1zM338 520h1v2h-1zM349 516h1v6h-1zM357 520h1v2h-1zM370 516h1v6h-1zM375 520h1v2h-1zM203 522h1v1h-1zM208 520h1v3h-1zM211 519h1v4h-1zM216 522h1v1h-1zM220 519h1v4h-1zM228 519h1v4h-1zM259 521h1v2h-1zM263 522h1v1h-1zM266 522h1v1h-1zM282 522h1v1h-1zM289 517h1v6h-1zM293 522h1v1h-1zM297 522h1v1h-1zM320 517h1v6h-1zM324 522h1v1h-1zM328 519h1v4h-1zM332 522h1v1h-1zM344 517h1v6h-1zM348 522h1v1h-1zM352 519h1v4h-1zM356 522h1v1h-1zM365 517h1v6h-1zM369 522h1v1h-1zM374 522h1v1h-1zM392 519h1v4h-1zM397 519h1v4h-1zM204 523h5v1h-5zM212 523h2v1h-2zM216 523h5v1h-5zM223 519h1v5h-1zM229 523h2v1h-2zM240 516h1v8h-1zM245 518h1v6h-1zM248 519h1v5h-1zM252 519h1v5h-1zM256 519h1v5h-1zM260 523h4v1h-4zM266 523h2v1h-2zM276 517h1v7h-1zM281 523h6v1h-6zM290 523h4v1h-4zM296 523h7v1h-7zM308 521h1v3h-1zM313 522h1v2h-1zM321 523h4v1h-4zM329 523h4v1h-4zM337 522h1v2h-1zM345 523h4v1h-4zM353 523h3v1h-3zM366 523h4v1h-4zM373 523h6v1h-6zM381 522h1v2h-1zM388 521h1v3h-1zM393 523h4v1h-4zM402 517h1v7h-1zM277 524h1v1h-1zM401 524h1v1h-1zM278 525h1v1h-1zM312 524h1v2h-1zM336 524h1v2h-1zM400 525h1v1h-1zM279 526h1v1h-1zM311 526h1v1h-1zM335 526h1v1h-1zM399 526h1v1h-1zM51 532h505v1h-505zM51 533h6v1h-6zM550 533h6v1h-6zM80 533h1v2h-1zM112 533h1v2h-1zM177 533h1v2h-1zM209 533h1v2h-1zM274 533h1v2h-1zM306 533h1v2h-1zM371 533h1v2h-1zM403 533h1v2h-1zM468 533h1v2h-1zM500 533h1v2h-1zM144 533h1v5h-1zM241 533h1v5h-1zM338 533h1v5h-1zM435 533h1v5h-1zM532 533h1v5h-1zM51 534h1v8h-1zM555 534h1v8h-1zM51 542h6v1h-6zM550 542h6v1h-6zM28 554h1v1h-1zM33 554h1v1h-1zM38 554h1v1h-1zM43 554h4v1h-4zM36 555h3v1h-3zM29 555h1v2h-1zM32 555h1v2h-1zM51 543h1v14h-1zM555 543h1v14h-1zM51 557h11v1h-11zM545 557h11v1h-11zM30 557h2v2h-2zM51 558h1v1h-1zM555 558h1v1h-1zM51 559h6v1h-6zM550 559h6v1h-6zM29 559h1v2h-1zM32 559h1v2h-1zM42 555h1v6h-1zM47 555h1v6h-1zM28 561h1v1h-1zM33 561h1v1h-1zM38 556h1v6h-1zM43 561h4v1h-4zM51 560h1v2h-1zM555 560h1v2h-1zM51 562h6v1h-6zM550 562h6v1h-6zM51 563h1v2h-1zM555 563h1v2h-1zM51 565h6v1h-6zM550 565h6v1h-6zM51 566h1v2h-1zM555 566h1v2h-1zM51 568h6v1h-6zM550 568h6v1h-6zM51 569h1v3h-1zM555 569h1v3h-1zM51 572h6v1h-6zM550 572h6v1h-6zM51 573h1v4h-1zM555 573h1v4h-1zM51 577h6v1h-6zM550 577h6v1h-6zM51 578h1v6h-1zM555 578h1v6h-1zM51 584h6v1h-6zM550 584h6v1h-6zM51 585h1v8h-1zM555 585h1v8h-1zM51 593h6v1h-6zM550 593h6v1h-6zM14 599h1v1h-1zM16 599h3v1h-3zM16 600h1v1h-1zM13 600h1v2h-1zM15 601h1v1h-1zM14 602h2v1h-2zM18 600h1v3h-1zM14 603h1v1h-1zM17 603h1v1h-1zM14 605h1v1h-1zM16 605h3v1h-3zM42 605h1v1h-1zM47 605h1v1h-1zM16 606h1v1h-1zM13 606h1v2h-1zM15 607h1v1h-1zM18 606h1v2h-1zM43 606h1v2h-1zM46 606h1v2h-1zM51 594h1v14h-1zM555 594h1v14h-1zM14 608h2v1h-2zM17 608h2v1h-2zM51 608h11v1h-11zM545 608h11v1h-11zM44 608h2v2h-2zM51 609h1v1h-1zM555 609h1v1h-1zM51 610h6v1h-6zM550 610h6v1h-6zM13 611h6v1h-6zM43 610h1v2h-1zM46 610h1v2h-1zM13 612h2v1h-2zM42 612h1v1h-1zM47 612h1v1h-1zM51 611h1v2h-1zM555 611h1v2h-1zM13 613h1v1h-1zM51 613h6v1h-6zM550 613h6v1h-6zM14 614h1v1h-1zM18 612h1v3h-1zM14 615h4v1h-4zM51 614h1v2h-1zM555 614h1v2h-1zM51 616h6v1h-6zM550 616h6v1h-6zM11 617h8v1h-8zM51 617h1v2h-1zM555 617h1v2h-1zM51 619h6v1h-6zM550 619h6v1h-6zM12 620h2v1h-2zM16 620h2v1h-2zM51 620h1v3h-1zM555 620h1v3h-1zM11 621h1v3h-1zM18 621h1v3h-1zM51 623h6v1h-6zM550 623h6v1h-6zM12 624h2v1h-2zM16 624h2v1h-2zM14 625h2v1h-2zM51 624h1v4h-1zM555 624h1v4h-1zM51 628h6v1h-6zM550 628h6v1h-6zM13 632h2v1h-2zM15 633h2v1h-2zM17 634h3v1h-3zM51 629h1v6h-1zM555 629h1v6h-1zM15 635h2v1h-2zM51 635h6v1h-6zM550 635h6v1h-6zM13 636h2v1h-2zM20 635h1v2h-1zM13 638h6v1h-6zM13 639h2v1h-2zM13 640h1v1h-1zM14 641h1v1h-1zM18 639h1v3h-1zM14 642h4v1h-4zM51 636h1v8h-1zM555 636h1v8h-1zM13 643h1v2h-1zM51 644h6v1h-6zM550 644h6v1h-6zM14 645h1v1h-1zM13 646h6v1h-6zM15 649h1v7h-1zM11 657h1v1h-1zM18 657h1v1h-1zM41 656h1v2h-1zM47 656h1v2h-1zM12 658h2v1h-2zM16 658h2v1h-2zM51 645h1v14h-1zM555 645h1v14h-1zM41 658h2v2h-2zM46 658h2v2h-2zM51 659h11v1h-11zM545 659h11v1h-11zM14 659h2v2h-2zM51 660h1v1h-1zM555 660h1v1h-1zM12 661h2v1h-2zM16 661h2v1h-2zM43 660h1v2h-1zM45 660h1v2h-1zM51 661h6v1h-6zM550 661h6v1h-6zM11 662h1v1h-1zM18 662h1v1h-1zM41 660h1v4h-1zM44 662h1v2h-1zM47 660h1v4h-1zM51 662h1v2h-1zM555 662h1v2h-1zM51 664h6v1h-6zM550 664h6v1h-6zM51 665h1v2h-1zM555 665h1v2h-1zM51 667h6v1h-6zM550 667h6v1h-6zM12 669h1v1h-1zM16 669h2v1h-2zM51 668h1v2h-1zM555 668h1v2h-1zM51 670h3v1h-3zM55 670h2v1h-2zM550 670h6v1h-6zM15 670h1v2h-1zM11 670h1v4h-1zM14 672h1v2h-1zM18 670h1v4h-1zM51 671h1v3h-1zM555 671h1v3h-1zM12 674h2v1h-2zM17 674h1v1h-1zM51 674h2v1h-2zM55 674h2v1h-2zM550 674h6v1h-6zM555 675h1v4h-1zM11 676h1v4h-1zM14 677h1v3h-1zM18 676h1v4h-1zM55 679h2v1h-2zM550 679h6v1h-6zM11 680h8v1h-8zM14 682h2v1h-2zM12 683h2v1h-2zM16 683h2v1h-2zM555 680h1v6h-1zM11 684h1v3h-1zM18 684h1v3h-1zM550 686h6v1h-6zM11 687h2v1h-2zM17 687h2v1h-2zM13 688h4v1h-4zM12 690h2v1h-2zM15 690h3v1h-3zM15 691h1v2h-1zM11 691h1v3h-1zM18 691h1v3h-1zM11 694h2v1h-2zM17 694h2v1h-2zM51 675h1v20h-1zM555 687h1v8h-1zM13 695h4v1h-4zM51 695h6v1h-6zM550 695h6v1h-6zM43 707h4v1h-4zM43 708h1v1h-1zM47 708h1v2h-1zM51 696h1v14h-1zM555 696h1v14h-1zM51 710h11v1h-11zM545 710h11v1h-11zM51 711h1v1h-1zM555 711h1v1h-1zM42 709h1v4h-1zM51 712h6v1h-6zM550 712h6v1h-6zM43 713h1v1h-1zM47 712h1v2h-1zM43 714h4v1h-4zM51 713h1v2h-1zM555 713h1v2h-1zM51 715h6v1h-6zM550 715h6v1h-6zM51 716h1v2h-1zM555 716h1v2h-1zM51 718h6v1h-6zM550 718h6v1h-6zM51 719h1v2h-1zM555 719h1v2h-1zM51 721h6v1h-6zM550 721h6v1h-6zM51 722h1v3h-1zM555 722h1v3h-1zM51 725h3v1h-3zM55 725h2v1h-2zM550 725h6v1h-6zM51 726h1v4h-1zM555 726h1v4h-1zM51 730h2v1h-2zM55 730h2v1h-2zM550 730h6v1h-6zM51 731h1v6h-1zM555 731h1v6h-1zM51 737h2v1h-2zM55 737h2v1h-2zM550 737h6v1h-6zM555 738h1v8h-1zM55 746h2v1h-2zM550 746h6v1h-6zM42 754h5v1h-5zM42 755h1v2h-1zM47 755h1v2h-1zM42 757h6v1h-6zM46 758h2v1h-2zM42 758h1v3h-1zM47 759h1v2h-1zM144 756h1v5h-1zM209 759h1v2h-1zM241 756h1v5h-1zM306 759h1v2h-1zM338 756h1v5h-1zM435 756h1v5h-1zM468 759h1v2h-1zM500 759h1v2h-1zM532 756h1v5h-1zM555 747h1v14h-1zM42 761h5v1h-5zM51 738h1v24h-1zM56 761h2v1h-2zM60 761h1v1h-1zM62 761h2v1h-2zM65 761h2v1h-2zM71 761h3v1h-3zM83 761h1v1h-1zM86 761h1v1h-1zM88 761h1v1h-1zM91 761h1v1h-1zM108 761h2v1h-2zM113 761h10v1h-10zM134 761h1v1h-1zM138 761h2v1h-2zM143 761h2v1h-2zM149 761h2v1h-2zM152 761h2v1h-2zM155 761h1v1h-1zM157 761h2v1h-2zM161 761h4v1h-4zM167 761h1v1h-1zM175 761h2v1h-2zM178 761h4v1h-4zM187 761h1v1h-1zM191 761h19v1h-19zM219 761h9v1h-9zM230 761h8v1h-8zM240 761h8v1h-8zM250 761h1v1h-1zM252 761h7v1h-7zM260 761h1v1h-1zM265 761h4v1h-4zM271 761h1v1h-1zM275 761h7v1h-7zM285 761h6v1h-6zM303 761h1v1h-1zM305 761h2v1h-2zM309 761h2v1h-2zM315 761h1v1h-1zM326 761h1v1h-1zM331 761h1v1h-1zM333 761h1v1h-1zM337 761h2v1h-2zM347 761h3v1h-3zM354 761h1v1h-1zM360 761h1v1h-1zM369 761h1v1h-1zM371 759h1v3h-1zM379 761h7v1h-7zM389 761h1v1h-1zM395 761h1v1h-1zM402 761h1v1h-1zM407 761h1v1h-1zM411 761h2v1h-2zM415 761h1v1h-1zM418 761h12v1h-12zM431 761h1v1h-1zM435 761h4v1h-4zM441 761h7v1h-7zM452 761h1v1h-1zM454 761h2v1h-2zM457 761h99v1h-99zM148 767h1v1h-1zM245 767h1v1h-1zM342 767h1v1h-1zM439 767h1v1h-1zM537 767h1v1h-1zM129 768h4v1h-4zM136 768h4v1h-4zM151 768h3v1h-3zM158 768h3v1h-3zM226 768h4v1h-4zM233 768h4v1h-4zM249 768h1v1h-1zM254 768h4v1h-4zM323 768h4v1h-4zM330 768h4v1h-4zM346 768h1v1h-1zM351 768h4v1h-4zM420 768h4v1h-4zM427 768h4v1h-4zM443 768h1v1h-1zM448 768h4v1h-4zM517 768h4v1h-4zM525 768h4v1h-4zM540 768h4v1h-4zM549 768h1v1h-1zM139 769h1v1h-1zM147 768h1v2h-1zM157 769h1v1h-1zM229 769h1v1h-1zM236 769h1v1h-1zM244 768h1v2h-1zM247 769h3v1h-3zM257 769h2v1h-2zM326 769h1v1h-1zM333 769h1v1h-1zM341 768h1v2h-1zM344 769h3v1h-3zM351 769h1v1h-1zM423 769h1v1h-1zM430 769h1v1h-1zM438 768h1v2h-1zM441 769h3v1h-3zM452 769h1v1h-1zM528 769h1v1h-1zM536 768h1v2h-1zM543 769h2v1h-2zM547 769h3v1h-3zM136 769h1v2h-1zM156 770h1v1h-1zM233 769h1v2h-1zM243 770h1v1h-1zM254 769h1v2h-1zM258 770h1v1h-1zM330 769h1v2h-1zM340 770h1v1h-1zM351 770h3v1h-3zM427 769h1v2h-1zM437 770h1v1h-1zM448 769h1v2h-1zM451 770h2v1h-2zM524 769h1v2h-1zM535 770h1v1h-1zM539 769h1v2h-1zM544 770h1v1h-1zM135 771h5v1h-5zM146 770h1v2h-1zM157 771h1v1h-1zM161 769h1v3h-1zM232 771h5v1h-5zM329 771h5v1h-5zM351 771h1v1h-1zM354 771h2v1h-2zM426 771h5v1h-5zM448 771h4v1h-4zM524 771h4v1h-4zM543 771h1v1h-1zM135 772h2v1h-2zM139 772h1v1h-1zM145 772h1v1h-1zM158 772h4v1h-4zM230 770h1v3h-1zM232 772h2v1h-2zM236 772h1v1h-1zM242 771h1v2h-1zM257 771h1v2h-1zM327 770h1v3h-1zM329 772h2v1h-2zM333 772h1v1h-1zM339 771h1v2h-1zM424 770h1v3h-1zM426 772h2v1h-2zM430 772h1v1h-1zM436 771h1v2h-1zM448 772h1v1h-1zM534 771h1v2h-1zM542 772h1v1h-1zM135 773h1v1h-1zM140 773h1v1h-1zM232 773h1v1h-1zM237 773h1v1h-1zM241 773h1v1h-1zM255 773h2v1h-2zM329 773h1v1h-1zM334 773h1v1h-1zM338 773h1v1h-1zM426 773h1v1h-1zM431 773h1v1h-1zM435 773h1v1h-1zM447 773h1v1h-1zM533 773h1v1h-1zM541 773h1v1h-1zM128 769h1v6h-1zM133 769h1v6h-1zM136 774h1v1h-1zM139 774h1v1h-1zM144 773h1v2h-1zM150 769h1v6h-1zM154 769h1v6h-1zM157 774h1v1h-1zM161 773h1v2h-1zM225 769h1v6h-1zM229 773h1v2h-1zM233 774h1v1h-1zM236 774h1v1h-1zM240 774h1v1h-1zM254 774h1v1h-1zM322 769h1v6h-1zM326 773h1v2h-1zM330 774h1v1h-1zM333 774h1v1h-1zM337 774h1v1h-1zM350 774h2v1h-2zM355 772h1v3h-1zM419 769h1v6h-1zM423 773h1v2h-1zM427 774h1v1h-1zM430 774h1v1h-1zM434 774h1v1h-1zM447 774h2v1h-2zM452 772h1v3h-1zM516 769h1v6h-1zM521 769h1v6h-1zM524 772h1v3h-1zM528 772h1v3h-1zM532 774h1v1h-1zM540 774h1v1h-1zM129 775h4v1h-4zM136 775h4v1h-4zM151 775h3v1h-3zM157 775h4v1h-4zM226 775h4v1h-4zM233 775h4v1h-4zM249 770h1v6h-1zM253 775h6v1h-6zM323 775h4v1h-4zM330 775h4v1h-4zM346 770h1v6h-1zM351 775h4v1h-4zM420 775h4v1h-4zM427 775h4v1h-4zM443 770h1v6h-1zM448 775h4v1h-4zM517 775h4v1h-4zM525 775h3v1h-3zM539 775h6v1h-6zM549 770h1v6h-1zM143 775h1v2h-1zM239 775h1v2h-1zM336 775h1v2h-1zM433 775h1v2h-1zM531 775h1v2h-1zM142 777h1v1h-1zM238 777h1v1h-1zM335 777h1v1h-1zM432 777h1v1h-1zM530 777h1v1h-1zM481 783h5v1h-5zM562 783h6v1h-6zM579 783h4v1h-4zM582 784h1v1h-1zM528 783h1v3h-1zM536 783h1v3h-1zM578 784h1v2h-1zM481 784h1v3h-1zM486 784h1v3h-1zM488 786h1v1h-1zM490 786h2v1h-2zM494 786h4v1h-4zM499 786h5v1h-5zM507 786h4v1h-4zM513 786h4v1h-4zM518 786h4v1h-4zM525 786h4v1h-4zM536 786h4v1h-4zM547 786h1v1h-1zM554 783h1v4h-1zM559 783h1v4h-1zM562 784h1v3h-1zM481 787h5v1h-5zM488 787h2v1h-2zM493 787h1v1h-1zM497 787h1v1h-1zM503 787h1v1h-1zM517 787h1v1h-1zM521 787h1v1h-1zM540 787h1v1h-1zM542 786h1v2h-1zM554 787h6v1h-6zM562 787h4v1h-4zM493 788h5v1h-5zM517 788h5v1h-5zM546 787h1v2h-1zM577 786h1v3h-1zM504 788h1v2h-1zM541 788h1v2h-1zM543 788h1v2h-1zM545 789h1v1h-1zM583 785h1v5h-1zM493 789h1v2h-1zM497 790h1v1h-1zM499 787h1v4h-1zM503 790h1v1h-1zM506 787h1v4h-1zM510 787h1v4h-1zM517 789h1v2h-1zM521 790h1v1h-1zM524 787h1v4h-1zM528 787h1v4h-1zM536 787h1v4h-1zM540 790h1v1h-1zM544 790h2v1h-2zM562 788h1v3h-1zM569 783h1v8h-1zM578 789h1v2h-1zM582 790h1v1h-1zM481 788h1v4h-1zM488 788h1v4h-1zM494 791h3v1h-3zM499 791h5v1h-5zM507 791h4v1h-4zM513 787h1v5h-1zM518 791h4v1h-4zM525 791h4v1h-4zM536 791h4v1h-4zM554 788h1v4h-1zM559 788h1v4h-1zM562 791h6v1h-6zM569 791h5v1h-5zM575 783h1v9h-1zM579 791h4v1h-4zM544 791h1v2h-1zM543 793h2v1h-2zM499 792h1v3h-1zM542 794h1v1h-1z"/>
<path fill="#00f" d="M545 37h11v1h-11zM561 58h3v1h-3zM574 58h2v1h-2zM576 59h1v1h-1zM555 38h1v23h-1zM560 59h1v2h-1zM563 59h1v2h-1zM566 60h1v1h-1zM574 59h1v2h-1zM545 61h11v1h-11zM560 61h3v1h-3zM565 61h1v1h-1zM567 61h1v1h-1zM573 61h3v1h-3zM559 62h2v1h-2zM562 62h2v1h-2zM568 62h1v1h-1zM570 60h1v3h-1zM568 63h2v1h-2zM576 62h1v2h-1zM563 63h1v2h-1zM572 62h1v3h-1zM575 64h1v1h-1zM561 65h2v1h-2zM568 64h1v2h-1zM573 65h2v1h-2zM567 66h1v2h-1zM559 63h1v6h-1zM566 68h1v1h-1zM561 82h3v1h-3zM567 82h2v1h-2zM569 83h1v1h-1zM584 83h1v1h-1zM586 83h3v1h-3zM555 62h1v23h-1zM560 83h1v2h-1zM563 83h1v2h-1zM567 83h1v2h-1zM586 84h1v1h-1zM545 85h11v1h-11zM560 85h3v1h-3zM566 85h3v1h-3zM583 84h1v2h-1zM585 85h1v1h-1zM559 86h2v1h-2zM562 86h2v1h-2zM584 86h2v1h-2zM588 84h1v3h-1zM569 86h1v2h-1zM584 87h1v1h-1zM587 87h1v1h-1zM563 87h1v2h-1zM565 86h1v3h-1zM568 88h1v1h-1zM561 89h2v1h-2zM566 89h2v1h-2zM584 89h1v1h-1zM586 89h3v1h-3zM586 90h1v1h-1zM583 90h1v2h-1zM585 91h1v1h-1zM588 90h1v2h-1zM559 87h1v6h-1zM584 92h2v1h-2zM587 92h2v1h-2zM583 95h6v1h-6zM583 96h1v2h-1zM584 98h1v1h-1zM588 96h1v3h-1zM584 99h4v1h-4zM581 101h8v1h-8zM582 104h2v1h-2zM586 104h2v1h-2zM561 106h3v1h-3zM581 105h1v3h-1zM588 105h1v3h-1zM555 86h1v23h-1zM560 107h1v2h-1zM563 107h1v2h-1zM566 108h1v1h-1zM582 108h2v1h-2zM586 108h2v1h-2zM545 109h11v1h-11zM560 109h3v1h-3zM565 109h1v1h-1zM567 109h1v1h-1zM584 109h2v1h-2zM559 110h2v1h-2zM562 110h2v1h-2zM568 110h1v1h-1zM570 108h1v3h-1zM568 111h2v1h-2zM563 111h1v2h-1zM561 113h2v1h-2zM568 112h1v2h-1zM567 114h1v2h-1zM559 111h1v6h-1zM566 116h1v1h-1zM588 116h1v1h-1zM587 117h2v1h-2zM583 120h8v1h-8zM583 121h1v2h-1zM588 121h1v2h-1zM584 123h1v1h-1zM587 123h2v1h-2zM590 121h1v3h-1zM585 124h2v1h-2zM583 126h6v1h-6zM584 127h1v1h-1zM583 128h1v1h-1zM561 129h3v1h-3zM583 129h2v1h-2zM588 127h1v3h-1zM584 130h4v1h-4zM177 128h1v4h-1zM209 128h1v4h-1zM241 128h1v4h-1zM274 128h1v4h-1zM338 128h1v4h-1zM371 128h1v4h-1zM435 128h1v4h-1zM468 128h1v4h-1zM555 110h1v22h-1zM560 130h1v2h-1zM563 130h1v2h-1zM173 132h106v1h-106zM334 132h42v1h-42zM431 132h42v1h-42zM545 132h11v1h-11zM560 132h3v1h-3zM274 133h3v1h-3zM337 133h2v1h-2zM371 133h3v1h-3zM434 133h2v1h-2zM468 133h3v1h-3zM559 133h2v1h-2zM562 133h2v1h-2zM581 133h8v1h-8zM277 134h1v1h-1zM335 134h2v1h-2zM374 134h1v1h-1zM432 134h2v1h-2zM471 134h1v1h-1zM583 134h4v1h-4zM278 135h1v1h-1zM334 135h1v1h-1zM375 135h1v1h-1zM431 135h1v1h-1zM472 135h1v1h-1zM563 134h1v2h-1zM587 135h2v1h-2zM177 133h1v4h-1zM209 133h1v4h-1zM241 133h1v4h-1zM274 134h1v3h-1zM279 136h2v1h-2zM333 136h1v1h-1zM338 134h1v3h-1zM371 134h1v3h-1zM376 136h2v1h-2zM430 136h1v1h-1zM435 134h1v3h-1zM468 134h1v3h-1zM473 136h2v1h-2zM561 136h2v1h-2zM585 136h2v1h-2zM281 137h1v1h-1zM331 137h2v1h-2zM378 137h1v1h-1zM428 137h2v1h-2zM475 137h1v1h-1zM583 137h2v1h-2zM282 138h1v1h-1zM330 138h1v1h-1zM379 138h1v1h-1zM427 138h1v1h-1zM476 138h1v1h-1zM581 138h8v1h-8zM283 139h2v1h-2zM329 139h1v1h-1zM380 139h2v1h-2zM426 139h1v1h-1zM477 139h2v1h-2zM559 134h1v6h-1zM285 140h1v1h-1zM327 140h2v1h-2zM382 140h1v1h-1zM424 140h2v1h-2zM479 140h1v1h-1zM286 141h1v1h-1zM326 141h1v1h-1zM383 141h1v1h-1zM423 141h1v1h-1zM480 141h1v1h-1zM287 142h2v1h-2zM325 142h1v1h-1zM384 142h2v1h-2zM422 142h1v1h-1zM481 142h2v1h-2zM289 143h1v1h-1zM323 143h2v1h-2zM386 143h1v1h-1zM420 143h2v1h-2zM483 143h1v1h-1zM290 144h1v1h-1zM322 144h1v1h-1zM387 144h1v1h-1zM419 144h1v1h-1zM484 144h1v1h-1zM291 145h2v1h-2zM321 145h1v1h-1zM388 145h2v1h-2zM418 145h1v1h-1zM485 145h2v1h-2zM293 146h1v1h-1zM319 146h2v1h-2zM390 146h1v1h-1zM416 146h2v1h-2zM487 146h1v1h-1zM294 147h1v1h-1zM318 147h1v1h-1zM391 147h1v1h-1zM415 147h1v1h-1zM488 147h1v1h-1zM295 148h2v1h-2zM317 148h1v1h-1zM392 148h2v1h-2zM414 148h1v1h-1zM489 148h2v1h-2zM297 149h1v1h-1zM315 149h2v1h-2zM394 149h1v1h-1zM412 149h2v1h-2zM491 149h1v1h-1zM298 150h1v1h-1zM314 150h1v1h-1zM395 150h1v1h-1zM411 150h1v1h-1zM492 150h1v1h-1zM299 151h2v1h-2zM313 151h1v1h-1zM396 151h2v1h-2zM410 151h1v1h-1zM493 151h2v1h-2zM301 152h1v1h-1zM311 152h2v1h-2zM398 152h1v1h-1zM408 152h2v1h-2zM495 152h1v1h-1zM302 153h1v1h-1zM310 153h1v1h-1zM399 153h1v1h-1zM407 153h1v1h-1zM496 153h1v1h-1zM303 154h2v1h-2zM306 152h1v3h-1zM309 154h1v1h-1zM400 154h2v1h-2zM403 152h1v3h-1zM406 154h1v1h-1zM497 154h2v1h-2zM500 152h1v3h-1zM305 155h4v1h-4zM402 155h4v1h-4zM499 155h2v1h-2zM555 133h1v23h-1zM561 155h2v1h-2zM302 156h9v1h-9zM399 156h9v1h-9zM496 156h9v1h-9zM545 156h11v1h-11zM560 156h1v1h-1zM564 155h1v2h-1zM563 157h1v2h-1zM559 157h1v3h-1zM562 159h2v1h-2zM306 157h1v4h-1zM403 157h1v4h-1zM500 157h1v4h-1zM560 160h2v1h-2zM564 160h1v1h-1zM555 157h1v23h-1zM545 180h11v1h-11zM555 181h1v23h-1zM545 204h11v1h-11zM555 205h1v22h-1zM545 227h11v1h-11zM202 637h1v8h-1zM192 625h1v31h-1zM202 645h2v17h-2zM201 662h3v1h-3zM114 650h2v22h-2zM191 656h2v24h-2zM92 664h1v27h-1zM190 680h3v13h-3zM113 672h3v22h-3zM203 663h1v37h-1zM450 669h2v31h-2zM201 663h1v38h-1zM203 700h2v1h-2zM113 694h4v9h-4zM215 701h1v3h-1zM68 653h1v52h-1zM119 695h1v11h-1zM214 704h2v2h-2zM312 674h1v34h-1zM154 687h1v22h-1zM156 704h1v5h-1zM296 671h1v41h-1zM172 705h1v8h-1zM299 708h1v5h-1zM75 711h1v4h-1zM213 706h3v10h-3zM347 696h1v20h-1zM80 717h1v1h-1zM113 703h5v15h-5zM183 718h1v1h-1zM115 718h3v2h-3zM119 706h2v14h-2zM272 707h1v13h-1zM392 707h1v13h-1zM59 717h1v4h-1zM195 691h1v30h-1zM399 709h1v12h-1zM193 693h1v32h-1zM195 721h2v4h-2zM105 722h1v4h-1zM193 725h5v1h-5zM450 700h3v26h-3zM102 703h1v24h-1zM294 720h1v7h-1zM296 712h2v15h-2zM312 708h2v19h-2zM346 716h2v11h-2zM77 724h1v5h-1zM90 718h1v11h-1zM136 727h1v2h-1zM206 718h1v11h-1zM299 713h2v16h-2zM54 724h1v6h-1zM346 727h3v3h-3zM353 725h1v5h-1zM361 716h1v14h-1zM363 716h1v14h-1zM101 727h2v4h-2zM140 707h1v24h-1zM194 726h4v5h-4zM80 718h2v14h-2zM213 716h4v16h-4zM345 730h4v3h-4zM391 720h2v13h-2zM85 734h1v1h-1zM212 732h5v3h-5zM265 732h1v3h-1zM345 733h5v2h-5zM398 721h2v14h-2zM401 723h1v12h-1zM204 701h1v35h-1zM206 729h2v7h-2zM404 709h1v27h-1zM59 721h2v16h-2zM204 736h4v1h-4zM264 735h2v2h-2zM352 730h2v7h-2zM194 731h5v7h-5zM200 728h1v10h-1zM264 737h3v1h-3zM334 735h1v3h-1zM336 723h1v15h-1zM373 732h1v6h-1zM96 727h1v12h-1zM101 731h3v8h-3zM105 726h2v13h-2zM117 720h4v19h-4zM317 736h1v3h-1zM319 735h1v4h-1zM390 733h3v6h-3zM394 735h1v4h-1zM95 739h2v1h-2zM98 736h1v4h-1zM396 735h1v5h-1zM398 735h4v5h-4zM68 705h2v36h-2zM101 739h6v2h-6zM212 735h6v6h-6zM417 685h1v56h-1zM59 737h3v5h-3zM74 715h2v27h-2zM77 729h2v13h-2zM110 735h1v7h-1zM124 703h1v39h-1zM263 738h4v4h-4zM367 732h1v10h-1zM68 741h3v2h-3zM127 737h1v6h-1zM194 738h7v5h-7zM110 742h2v2h-2zM263 742h5v2h-5zM269 737h1v7h-1zM323 743h1v1h-1zM340 698h1v46h-1zM372 738h2v6h-2zM53 730h2v15h-2zM205 737h3v8h-3zM209 742h1v3h-1zM249 744h1v1h-1zM263 744h7v1h-7zM272 720h2v25h-2zM355 718h1v27h-1zM357 735h1v10h-1zM449 726h4v19h-4zM159 745h1v1h-1zM195 743h6v3h-6zM263 745h3v1h-3zM267 745h3v1h-3zM348 735h2v11h-2zM124 742h2v5h-2zM196 746h4v1h-4zM205 745h5v2h-5zM211 741h7v6h-7zM263 746h2v1h-2zM317 739h3v8h-3zM321 719h1v28h-1zM59 742h4v6h-4zM92 691h2v57h-2zM95 740h4v8h-4zM197 747h3v1h-3zM292 746h1v2h-1zM355 745h3v3h-3zM359 726h1v22h-1zM372 744h3v4h-3zM404 736h2v12h-2zM317 747h5v2h-5zM330 748h1v1h-1zM123 747h3v3h-3zM127 743h2v7h-2zM135 729h2v21h-2zM148 732h1v18h-1zM169 742h1v8h-1zM367 742h2v8h-2zM378 736h1v14h-1zM430 702h2v48h-2zM100 741h7v10h-7zM140 731h2v20h-2zM154 709h3v42h-3zM267 746h4v5h-4zM439 740h1v11h-1zM52 745h3v7h-3zM74 742h5v10h-5zM80 732h3v20h-3zM123 750h6v2h-6zM166 741h1v11h-1zM168 750h2v2h-2zM171 713h2v39h-2zM349 746h1v6h-1zM351 737h3v15h-3zM403 748h3v4h-3zM414 683h1v69h-1zM430 750h3v2h-3zM182 719h2v34h-2zM185 667h1v86h-1zM59 748h5v6h-5zM92 748h7v6h-7zM100 751h8v3h-8zM119 739h2v15h-2zM122 752h7v2h-7zM168 752h5v2h-5zM190 693h1v61h-1zM208 747h2v7h-2zM211 747h8v7h-8zM229 744h1v10h-1zM294 727h4v27h-4zM299 729h3v25h-3zM316 749h6v5h-6zM323 744h2v10h-2zM340 744h2v10h-2zM343 750h1v4h-1zM345 735h2v19h-2zM372 748h4v6h-4zM377 750h2v4h-2zM59 754h1v1h-1zM189 754h2v1h-2zM198 748h2v7h-2zM205 747h2v8h-2zM208 754h11v1h-11zM262 747h3v8h-3zM283 746h2v9h-2zM294 754h8v1h-8zM312 727h3v28h-3zM349 752h5v3h-5zM408 720h1v35h-1zM61 754h3v2h-3zM119 754h10v2h-10zM132 738h1v18h-1zM168 754h6v2h-6zM268 751h3v5h-3zM291 748h2v8h-2zM294 755h9v1h-9zM316 754h9v2h-9zM327 748h1v8h-1zM329 749h2v7h-2zM340 754h7v2h-7zM361 730h3v26h-3zM432 752h1v4h-1zM434 722h1v34h-1zM449 745h3v11h-3zM120 756h9v1h-9zM130 755h1v2h-1zM145 747h1v10h-1zM147 750h2v7h-2zM239 751h1v6h-1zM308 748h1v9h-1zM386 736h1v21h-1zM388 729h1v28h-1zM120 757h2v1h-2zM182 753h4v5h-4zM361 756h4v2h-4zM366 750h3v8h-3zM61 756h4v3h-4zM123 757h8v2h-8zM132 756h2v3h-2zM209 755h10v4h-10zM408 755h2v4h-2zM121 758h1v2h-1zM52 752h4v10h-4zM58 755h2v7h-2zM61 759h1v3h-1zM64 759h1v3h-1zM67 743h4v19h-4zM74 752h9v10h-9zM84 735h2v27h-2zM87 743h1v19h-1zM89 729h2v33h-2zM92 754h16v8h-16zM110 744h3v18h-3zM123 759h11v3h-11zM135 750h3v12h-3zM140 751h3v11h-3zM145 757h4v5h-4zM151 760h1v2h-1zM154 751h1v11h-1zM156 751h1v11h-1zM159 746h2v16h-2zM165 752h2v10h-2zM168 756h7v6h-7zM177 747h1v15h-1zM182 758h5v4h-5zM188 755h3v7h-3zM210 759h9v3h-9zM228 754h2v8h-2zM238 757h2v5h-2zM248 745h2v17h-2zM251 748h1v14h-1zM259 738h1v24h-1zM261 755h4v7h-4zM269 756h2v6h-2zM272 745h3v17h-3zM282 755h3v7h-3zM291 756h12v6h-12zM304 754h1v8h-1zM307 757h2v5h-2zM311 755h4v7h-4zM316 756h10v6h-10zM327 756h4v6h-4zM332 739h1v23h-1zM334 738h3v24h-3zM339 756h8v6h-8zM350 755h4v7h-4zM355 748h5v14h-5zM361 758h8v4h-8zM370 707h1v55h-1zM372 754h7v8h-7zM386 757h3v5h-3zM390 739h5v23h-5zM396 740h6v22h-6zM403 752h4v10h-4zM408 759h3v3h-3zM413 752h2v10h-2zM416 741h2v21h-2zM430 752h1v10h-1zM432 756h3v6h-3zM439 751h2v11h-2zM448 756h4v6h-4zM453 745h1v17h-1zM456 728h1v34h-1z"/>
<path fill="#f00" d="M562 279h4v1h-4zM576 279h6v1h-6zM562 280h1v1h-1zM568 279h1v2h-1zM574 279h1v2h-1zM566 280h1v2h-1zM576 280h1v2h-1zM584 281h2v1h-2zM568 281h2v2h-2zM573 281h2v2h-2zM576 282h4v1h-4zM582 282h2v1h-2zM586 282h1v1h-1zM583 283h2v1h-2zM561 281h1v4h-1zM570 283h1v2h-1zM572 283h1v2h-1zM585 284h2v1h-2zM562 285h1v1h-1zM566 284h1v2h-1zM576 283h1v3h-1zM582 285h1v1h-1zM586 285h1v1h-1zM562 286h4v1h-4zM568 283h1v4h-1zM571 285h1v2h-1zM574 283h1v4h-1zM576 286h6v1h-6zM583 286h4v1h-4zM115 270h1v20h-1zM117 270h1v20h-1zM192 270h1v20h-1zM202 270h2v20h-2zM208 270h1v20h-1zM239 270h2v20h-2zM262 270h1v20h-1zM265 270h1v20h-1zM272 270h1v20h-1zM415 270h1v20h-1zM417 270h1v20h-1zM430 270h1v20h-1zM460 270h1v20h-1zM202 608h1v11h-1zM192 598h1v24h-1zM191 622h2v3h-2zM114 608h2v24h-2zM113 632h3v3h-3zM202 619h2v16h-2zM201 635h3v2h-3zM92 628h1v10h-1zM451 639h1v1h-1zM191 625h1v16h-1zM203 637h1v8h-1zM68 619h1v27h-1zM113 635h4v13h-4zM113 648h5v2h-5zM119 649h1v3h-1zM431 651h1v1h-1zM68 646h2v7h-2zM296 633h1v20h-1zM450 640h2v15h-2zM190 641h2v15h-2zM154 647h1v11h-1zM156 654h1v4h-1zM116 650h2v9h-2zM119 652h2v7h-2zM193 637h1v22h-1zM195 651h1v8h-1zM312 639h1v20h-1zM215 660h1v1h-1zM102 653h1v9h-1zM201 637h1v25h-1zM272 655h1v7h-1zM214 661h2v2h-2zM75 662h1v2h-1zM92 638h2v26h-2zM102 662h2v2h-2zM172 658h1v6h-1zM299 661h1v3h-1zM69 653h1v12h-1zM193 659h3v6h-3zM214 663h3v2h-3zM69 665h2v1h-2zM81 665h1v1h-1zM77 666h1v1h-1zM105 666h1v1h-1zM185 632h1v35h-1zM193 665h4v2h-4zM204 645h1v22h-1zM206 665h1v2h-1zM312 659h2v8h-2zM101 664h3v4h-3zM116 659h5v9h-5zM204 667h3v1h-3zM347 652h1v16h-1zM140 659h1v10h-1zM204 668h4v1h-4zM294 667h1v2h-1zM296 653h2v16h-2zM346 668h2v1h-2zM349 668h1v1h-1zM450 655h3v14h-3zM85 667h1v3h-1zM96 666h1v4h-1zM103 668h1v2h-1zM105 667h2v3h-2zM193 667h5v3h-5zM80 666h2v5h-2zM124 654h1v17h-1zM194 670h5v1h-5zM294 669h4v2h-4zM54 669h1v3h-1zM90 664h1v8h-1zM113 650h1v22h-1zM194 671h6v1h-6zM213 665h4v7h-4zM299 664h2v8h-2zM74 664h2v9h-2zM77 667h2v6h-2zM101 668h1v5h-1zM124 671h2v2h-2zM195 672h6v1h-6zM399 668h1v5h-1zM59 663h2v11h-2zM96 670h3v4h-3zM205 669h3v5h-3zM209 673h1v1h-1zM312 667h3v7h-3zM392 667h1v7h-1zM74 673h5v2h-5zM80 671h3v4h-3zM100 673h2v2h-2zM103 670h4v5h-4zM123 673h3v2h-3zM127 674h1v1h-1zM136 671h1v4h-1zM183 670h1v5h-1zM196 673h5v2h-5zM205 674h5v1h-5zM211 672h6v3h-6zM272 662h2v13h-2zM319 672h1v3h-1zM321 669h1v6h-1zM59 674h3v2h-3zM95 674h4v2h-4zM100 675h1v1h-1zM110 675h1v2h-1zM119 668h2v9h-2zM182 675h2v2h-2zM197 675h4v2h-4zM346 669h4v8h-4zM53 672h2v6h-2zM59 676h4v2h-4zM74 675h9v3h-9zM84 670h2v8h-2zM87 674h1v4h-1zM93 664h1v14h-1zM95 676h6v2h-6zM120 677h2v1h-2zM123 675h1v3h-1zM132 672h1v6h-1zM154 658h3v20h-3zM205 675h12v3h-12zM336 673h1v5h-1zM398 673h2v5h-2zM401 677h1v1h-1zM98 678h3v1h-3zM104 675h3v4h-3zM125 675h1v4h-1zM127 675h2v4h-2zM265 677h1v2h-1zM269 676h1v3h-1zM345 677h5v2h-5zM404 669h1v10h-1zM430 652h2v27h-2zM52 678h3v2h-3zM61 678h3v2h-3zM70 666h1v14h-1zM74 678h4v2h-4zM89 672h2v8h-2zM105 679h2v1h-2zM120 678h4v2h-4zM125 679h5v1h-5zM132 678h2v2h-2zM171 664h2v16h-2zM190 656h1v24h-1zM207 678h11v2h-11zM265 679h2v1h-2zM268 679h3v1h-3zM317 679h1v1h-1zM319 675h3v5h-3zM345 679h6v1h-6zM361 673h1v7h-1zM363 671h1v9h-1zM367 678h1v2h-1zM430 679h3v1h-3zM74 680h3v1h-3zM79 678h9v3h-9zM89 680h3v1h-3zM106 680h1v1h-1zM169 679h1v2h-1zM171 680h4v1h-4zM198 677h3v4h-3zM265 680h6v1h-6zM334 678h3v3h-3zM345 680h7v1h-7zM398 678h4v3h-4zM59 678h1v4h-1zM70 680h2v2h-2zM86 681h2v1h-2zM89 681h1v1h-1zM99 679h2v3h-2zM121 680h2v2h-2zM125 680h9v2h-9zM148 673h1v9h-1zM182 677h3v5h-3zM199 681h2v1h-2zM208 680h6v2h-6zM215 680h4v2h-4zM249 681h1v1h-1zM264 681h7v1h-7zM292 680h1v2h-1zM340 660h1v22h-1zM350 681h2v1h-2zM353 674h1v8h-1zM397 681h5v1h-5zM52 680h4v3h-4zM61 680h4v3h-4zM67 675h1v8h-1zM76 681h1v2h-1zM79 681h2v2h-2zM82 681h3v2h-3zM99 682h1v1h-1zM106 681h2v2h-2zM121 682h1v1h-1zM129 682h5v1h-5zM135 675h2v8h-2zM140 669h2v14h-2zM145 680h1v3h-1zM156 678h1v5h-1zM169 681h6v2h-6zM200 682h1v1h-1zM210 682h3v1h-3zM263 682h8v1h-8zM294 671h2v12h-2zM391 674h2v9h-2zM394 679h1v4h-1zM414 649h1v34h-1zM58 682h2v2h-2zM61 683h1v1h-1zM83 683h2v1h-2zM93 678h3v6h-3zM126 682h2v2h-2zM129 683h3v1h-3zM140 683h3v1h-3zM144 683h2v1h-2zM168 683h8v1h-8zM177 681h1v3h-1zM216 682h3v2h-3zM229 682h1v2h-1zM262 683h4v1h-4zM267 683h4v1h-4zM373 680h1v4h-1zM391 683h4v1h-4zM417 649h1v35h-1zM86 682h4v3h-4zM126 684h1v1h-1zM130 684h2v1h-2zM133 683h1v2h-1zM135 683h3v2h-3zM140 684h6v1h-6zM156 683h2v2h-2zM216 684h4v1h-4zM267 684h2v1h-2zM291 682h2v3h-2zM294 683h1v2h-1zM313 674h2v11h-2zM317 680h5v5h-5zM323 682h2v3h-2zM367 680h2v5h-2zM372 684h2v1h-2zM416 684h2v1h-2zM452 669h1v16h-1zM64 683h4v3h-4zM71 682h1v4h-1zM87 685h3v1h-3zM94 684h2v2h-2zM107 683h1v3h-1zM110 677h3v9h-3zM130 685h1v1h-1zM139 685h7v1h-7zM147 682h2v4h-2zM168 684h10v2h-10zM181 682h2v4h-2zM229 684h2v2h-2zM268 685h1v1h-1zM270 684h1v2h-1zM272 675h3v11h-3zM313 685h3v1h-3zM317 685h3v1h-3zM355 671h1v15h-1zM357 682h1v4h-1zM359 674h1v12h-1zM372 685h3v1h-3zM432 680h1v6h-1zM434 670h1v16h-1zM52 683h5v4h-5zM71 686h2v1h-2zM74 681h1v6h-1zM88 686h2v1h-2zM91 681h1v6h-1zM95 686h1v1h-1zM107 686h2v1h-2zM110 686h2v1h-2zM154 678h1v9h-1zM168 686h11v1h-11zM184 682h1v5h-1zM186 678h1v9h-1zM189 686h1v1h-1zM216 685h6v2h-6zM229 686h3v1h-3zM283 683h2v4h-2zM313 686h6v1h-6zM340 682h2v5h-2zM439 685h1v2h-1zM55 687h2v1h-2zM58 684h1v4h-1zM107 687h5v1h-5zM133 685h5v3h-5zM139 686h10v2h-10zM172 687h7v1h-7zM180 686h3v2h-3zM228 687h4v1h-4zM299 672h3v16h-3zM321 685h4v3h-4zM350 682h4v6h-4zM355 686h5v2h-5zM361 680h3v8h-3zM372 686h4v2h-4zM378 683h1v5h-1zM449 674h1v14h-1zM52 687h1v2h-1zM55 688h4v1h-4zM71 687h4v2h-4zM108 688h3v1h-3zM133 688h16v1h-16zM157 685h1v4h-1zM159 683h1v6h-1zM172 688h11v1h-11zM217 687h6v2h-6zM230 688h2v1h-2zM262 684h3v5h-3zM270 686h5v3h-5zM297 671h1v18h-1zM299 688h4v1h-4zM314 687h5v2h-5zM330 687h1v2h-1zM332 686h1v3h-1zM340 687h3v2h-3zM350 688h10v1h-10zM361 688h4v1h-4zM65 686h2v4h-2zM72 689h3v1h-3zM168 687h3v3h-3zM175 689h8v1h-8zM218 689h2v1h-2zM239 687h1v3h-1zM270 689h2v1h-2zM315 689h4v1h-4zM327 686h1v4h-1zM334 681h4v9h-4zM339 689h4v1h-4zM408 678h1v12h-1zM134 689h16v2h-16zM151 686h1v5h-1zM157 689h3v2h-3zM168 690h1v1h-1zM175 690h7v1h-7zM221 689h3v2h-3zM231 689h2v2h-2zM239 690h4v1h-4zM271 690h1v1h-1zM297 689h6v2h-6zM304 686h1v5h-1zM329 689h4v2h-4zM334 690h9v1h-9zM347 681h1v10h-1zM350 689h15v2h-15zM366 685h3v6h-3zM370 666h1v25h-1zM372 688h7v3h-7zM386 687h1v4h-1zM388 679h1v12h-1zM408 690h2v1h-2zM432 686h3v5h-3zM448 688h2v3h-2zM56 689h3v3h-3zM108 689h2v3h-2zM137 691h3v1h-3zM142 691h2v1h-2zM145 691h8v1h-8zM158 691h2v1h-2zM165 684h1v8h-1zM167 691h2v1h-2zM176 691h6v1h-6zM219 690h1v2h-1zM222 691h3v1h-3zM232 691h2v1h-2zM239 691h5v1h-5zM251 688h1v4h-1zM261 689h3v3h-3zM273 689h2v3h-2zM282 687h3v5h-3zM297 691h8v1h-8zM326 690h2v2h-2zM329 691h14v1h-14zM345 681h1v11h-1zM350 691h21v1h-21zM372 691h8v1h-8zM404 679h2v13h-2zM452 685h2v7h-2zM56 692h2v1h-2zM73 690h2v3h-2zM138 692h2v1h-2zM158 692h4v1h-4zM163 692h6v1h-6zM170 690h1v3h-1zM172 689h1v4h-1zM178 692h4v1h-4zM232 692h3v1h-3zM238 692h6v1h-6zM259 677h1v16h-1zM261 692h2v1h-2zM273 692h3v1h-3zM291 685h4v8h-4zM297 692h3v1h-3zM301 692h4v1h-4zM315 690h3v3h-3zM322 688h3v5h-3zM326 692h9v1h-9zM350 692h31v1h-31zM386 691h3v2h-3zM390 684h5v9h-5zM444 692h1v1h-1zM452 692h3v1h-3zM456 672h1v21h-1zM146 692h2v2h-2zM178 693h3v1h-3zM186 687h4v7h-4zM223 692h2v2h-2zM259 693h4v1h-4zM281 692h5v2h-5zM297 693h2v1h-2zM307 688h2v6h-2zM311 690h1v4h-1zM350 693h32v1h-32zM443 693h4v1h-4zM448 691h1v3h-1zM149 692h5v3h-5zM158 693h11v2h-11zM179 694h1v1h-1zM187 694h3v1h-3zM233 693h2v2h-2zM238 693h4v2h-4zM243 693h1v2h-1zM255 694h1v1h-1zM297 694h1v1h-1zM302 693h4v2h-4zM323 693h12v2h-12zM350 694h17v1h-17zM369 694h13v1h-13zM403 692h3v3h-3zM408 691h3v4h-3zM423 694h1v1h-1zM432 691h4v4h-4zM150 695h4v1h-4zM158 695h10v1h-10zM224 694h2v2h-2zM228 688h1v8h-1zM234 695h1v1h-1zM248 682h2v14h-2zM255 695h2v1h-2zM258 694h4v2h-4zM275 693h1v3h-1zM280 694h3v2h-3zM290 693h5v3h-5zM303 695h3v1h-3zM307 694h5v2h-5zM315 693h2v3h-2zM324 695h11v1h-11zM337 692h9v4h-9zM350 695h1v1h-1zM352 695h3v1h-3zM369 695h14v1h-14zM423 695h2v1h-2zM430 680h1v16h-1zM433 695h1v1h-1zM453 693h4v3h-4zM158 696h1v1h-1zM161 696h6v1h-6zM224 696h5v1h-5zM238 695h3v2h-3zM243 695h2v2h-2zM255 696h7v1h-7zM280 696h2v1h-2zM337 696h4v1h-4zM352 696h2v1h-2zM356 695h11v2h-11zM380 696h3v1h-3zM416 685h1v12h-1zM443 694h6v3h-6zM162 697h3v1h-3zM244 697h2v1h-2zM247 696h3v2h-3zM279 697h3v1h-3zM284 694h2v4h-2zM304 696h8v2h-8zM325 696h10v2h-10zM337 697h2v1h-2zM340 697h1v1h-1zM357 697h10v1h-10zM369 696h10v2h-10zM381 697h3v1h-3zM413 688h1v10h-1zM439 687h2v11h-2zM442 697h2v1h-2zM454 696h3v2h-3zM163 698h2v1h-2zM225 697h4v2h-4zM234 696h2v3h-2zM240 697h1v2h-1zM244 698h6v1h-6zM251 692h2v7h-2zM255 697h6v2h-6zM275 696h2v3h-2zM278 698h4v1h-4zM284 698h3v1h-3zM290 696h1v3h-1zM337 698h1v1h-1zM363 698h1v1h-1zM365 698h2v1h-2zM370 698h9v1h-9zM382 698h2v1h-2zM386 693h9v6h-9zM396 682h6v17h-6zM403 695h8v4h-8zM412 698h2v1h-2zM418 693h1v6h-1zM420 698h1v1h-1zM423 696h4v3h-4zM439 698h5v1h-5zM455 698h1v1h-1zM235 699h2v1h-2zM238 697h1v3h-1zM244 699h16v1h-16zM275 699h6v1h-6zM284 699h4v1h-4zM289 699h2v1h-2zM292 696h2v4h-2zM305 698h7v2h-7zM325 698h9v2h-9zM361 698h1v2h-1zM366 699h1v1h-1zM371 699h4v1h-4zM382 699h20v1h-20zM403 699h11v1h-11zM418 699h4v1h-4zM423 699h5v1h-5zM429 696h2v4h-2zM435 695h1v5h-1zM439 699h1v1h-1zM441 699h3v1h-3zM226 699h2v2h-2zM245 700h15v1h-15zM276 700h4v1h-4zM305 700h6v1h-6zM325 700h6v1h-6zM342 696h3v5h-3zM376 699h2v2h-2zM389 700h13v1h-13zM403 700h6v1h-6zM410 700h4v1h-4zM235 700h4v2h-4zM246 701h10v1h-10zM276 701h3v1h-3zM285 700h6v2h-6zM306 701h5v1h-5zM327 701h3v1h-3zM343 701h2v1h-2zM352 697h1v5h-1zM371 700h3v2h-3zM376 701h1v1h-1zM383 700h5v2h-5zM418 700h13v2h-13zM435 700h5v2h-5zM441 700h2v2h-2zM247 702h1v1h-1zM249 702h6v1h-6zM286 702h5v1h-5zM307 702h3v1h-3zM329 702h1v1h-1zM332 700h1v3h-1zM372 702h2v1h-2zM410 701h3v2h-3zM425 702h5v1h-5zM436 702h3v1h-3zM236 702h3v2h-3zM257 701h2v3h-2zM277 702h2v2h-2zM286 703h4v1h-4zM358 698h2v6h-2zM384 702h3v2h-3zM418 702h6v2h-6zM425 703h1v1h-1zM436 703h2v1h-2zM237 704h2v1h-2zM250 703h5v2h-5zM278 704h1v1h-1zM287 704h3v1h-3zM385 704h2v1h-2zM389 701h19v4h-19zM410 703h2v2h-2zM418 704h2v1h-2zM421 704h1v1h-1zM427 703h3v2h-3zM441 702h1v3h-1zM237 705h1v1h-1zM250 705h1v1h-1zM253 705h2v1h-2zM288 705h2v1h-2zM358 704h1v2h-1zM385 705h1v1h-1zM389 705h18v1h-18zM428 705h1v1h-1zM389 706h3v1h-3zM394 706h2v1h-2zM389 707h2v1h-2zM397 706h8v2h-8zM415 697h2v11h-2zM395 707h1v2h-1zM399 708h6v1h-6zM406 706h1v3h-1zM389 708h1v2h-1zM400 709h4v1h-4zM402 710h2v1h-2z"/>
<path fill="#a0a0a0" d="M62 290h461v1h-461zM524 290h21v1h-21zM62 341h22v1h-22zM85 341h438v1h-438zM524 341h21v1h-21zM62 392h22v1h-22zM85 392h7v1h-7zM93 392h178v1h-178zM272 392h158v1h-158zM431 392h45v1h-45zM477 392h68v1h-68zM62 443h13v1h-13zM76 443h6v1h-6zM83 443h9v1h-9zM93 443h25v1h-25zM119 443h119v1h-119zM239 443h9v1h-9zM249 443h19v1h-19zM269 443h2v1h-2zM272 443h158v1h-158zM431 443h3v1h-3zM435 443h21v1h-21zM457 443h19v1h-19zM477 443h46v1h-46zM524 443h21v1h-21zM62 557h483v1h-483zM62 608h52v1h-52zM116 608h76v1h-76zM193 608h9v1h-9zM203 608h342v1h-342zM62 659h6v1h-6zM70 659h22v1h-22zM94 659h8v1h-8zM103 659h10v1h-10zM121 659h3v1h-3zM125 659h15v1h-15zM141 659h13v1h-13zM157 659h15v1h-15zM173 659h12v1h-12zM186 659h4v1h-4zM196 659h5v1h-5zM205 659h67v1h-67zM273 659h23v1h-23zM298 659h14v1h-14zM314 659h33v1h-33zM348 659h66v1h-66zM415 659h2v1h-2zM418 659h12v1h-12zM432 659h18v1h-18zM453 659h92v1h-92zM62 710h6v1h-6zM70 710h22v1h-22zM94 710h8v1h-8zM103 710h10v1h-10zM118 710h1v1h-1zM121 710h3v1h-3zM125 710h15v1h-15zM141 710h13v1h-13zM157 710h15v1h-15zM173 710h12v1h-12zM186 710h4v1h-4zM191 710h2v1h-2zM194 710h1v1h-1zM196 710h8v1h-8zM205 710h8v1h-8zM216 710h56v1h-56zM273 710h23v1h-23zM297 710h2v1h-2zM300 710h12v1h-12zM314 710h26v1h-26zM341 710h6v1h-6zM348 710h22v1h-22zM371 710h21v1h-21zM393 710h6v1h-6zM400 710h2v1h-2zM405 710h9v1h-9zM415 710h2v1h-2zM418 710h12v1h-12zM432 710h18v1h-18zM453 710h92v1h-92z"/>
</svg>
</body></html>
